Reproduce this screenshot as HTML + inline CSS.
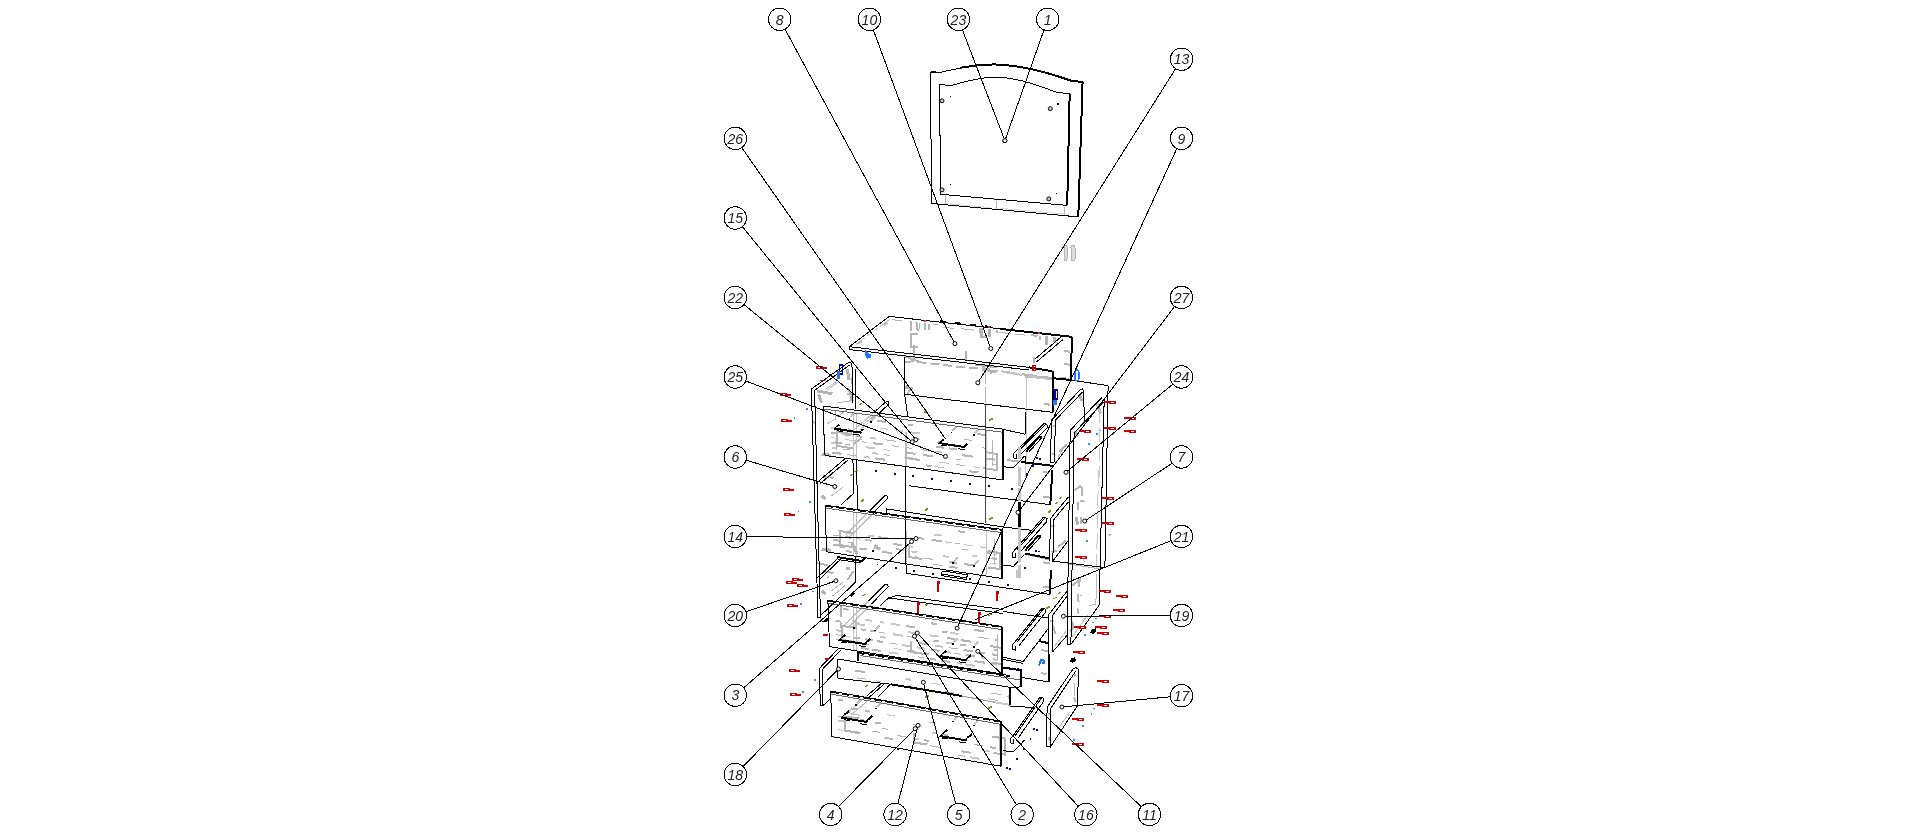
<!DOCTYPE html>
<html><head><meta charset="utf-8"><title>Exploded view</title>
<style>html,body{margin:0;padding:0;background:#fff;overflow:hidden}svg{display:block}</style></head>
<body>
<svg width="1916" height="834" viewBox="0 0 1916 834" shape-rendering="crispEdges" fill="none">
<rect x="0" y="0" width="1916" height="834" fill="#fff"/>
<g id="hidden">
<line x1="945.9" y1="196" x2="945.9" y2="204.7" stroke="#b4b4b4" stroke-width="1"/>
<line x1="996.7" y1="201" x2="996.7" y2="209.3" stroke="#b4b4b4" stroke-width="1"/>
<line x1="1064.2" y1="206.8" x2="1064.2" y2="214.7" stroke="#b4b4b4" stroke-width="1"/>
<line x1="946" y1="203.6" x2="990" y2="207.6" stroke="#ddd" stroke-width="1"/>
<line x1="1000" y1="208.3" x2="1064" y2="214" stroke="#ddd" stroke-width="1"/>
<line x1="1084.3" y1="421.3" x2="1074" y2="435" stroke="#bbb" stroke-width="1"/>
<line x1="1066" y1="444.5" x2="1058" y2="457" stroke="#bbb" stroke-width="1"/>
<line x1="877" y1="420.9" x2="886.3" y2="422.1" stroke="#b4b4b4" stroke-width="2"/>
<line x1="907.9" y1="424.9" x2="912.6" y2="425.5" stroke="#b4b4b4" stroke-width="2"/>
<line x1="976.6" y1="433.9" x2="985.2" y2="435" stroke="#b4b4b4" stroke-width="2"/>
<line x1="880.1" y1="428.2" x2="888.3" y2="429.3" stroke="#c6c6c6" stroke-width="1"/>
<line x1="896" y1="430.3" x2="903.1" y2="431.3" stroke="#c6c6c6" stroke-width="2"/>
<line x1="910.7" y1="432.3" x2="919.8" y2="433.5" stroke="#c6c6c6" stroke-width="2"/>
<line x1="963.6" y1="439.2" x2="972.2" y2="440.4" stroke="#b4b4b4" stroke-width="1"/>
<line x1="831" y1="427.7" x2="838.3" y2="428.7" stroke="#c6c6c6" stroke-width="2"/>
<line x1="913" y1="438.6" x2="919.7" y2="439.5" stroke="#c6c6c6" stroke-width="2"/>
<line x1="937.5" y1="441.8" x2="943.4" y2="442.6" stroke="#b4b4b4" stroke-width="2"/>
<line x1="981.9" y1="447.7" x2="986.9" y2="448.4" stroke="#b4b4b4" stroke-width="1"/>
<line x1="831.1" y1="432.6" x2="836" y2="433.3" stroke="#b4b4b4" stroke-width="2"/>
<line x1="842.8" y1="434.2" x2="851.4" y2="435.4" stroke="#b4b4b4" stroke-width="2"/>
<line x1="857.2" y1="436.1" x2="862.4" y2="436.8" stroke="#b4b4b4" stroke-width="2"/>
<line x1="870.1" y1="437.8" x2="876.2" y2="438.7" stroke="#c6c6c6" stroke-width="2"/>
<line x1="885" y1="439.8" x2="895.6" y2="441.2" stroke="#b4b4b4" stroke-width="1"/>
<line x1="936.1" y1="446.6" x2="943.8" y2="447.7" stroke="#b4b4b4" stroke-width="2"/>
<line x1="949" y1="448.4" x2="957.1" y2="449.4" stroke="#b4b4b4" stroke-width="2"/>
<line x1="831.3" y1="437.6" x2="837.3" y2="438.4" stroke="#c6c6c6" stroke-width="1"/>
<line x1="845.2" y1="439.5" x2="855.7" y2="440.9" stroke="#c6c6c6" stroke-width="1"/>
<line x1="862.3" y1="441.8" x2="867" y2="442.4" stroke="#b4b4b4" stroke-width="1"/>
<line x1="873.3" y1="443.2" x2="883.4" y2="444.6" stroke="#b4b4b4" stroke-width="2"/>
<line x1="891.9" y1="445.7" x2="898.9" y2="446.7" stroke="#b4b4b4" stroke-width="1"/>
<line x1="905.4" y1="447.5" x2="912.4" y2="448.5" stroke="#b4b4b4" stroke-width="1"/>
<line x1="920.5" y1="449.6" x2="930" y2="450.9" stroke="#b4b4b4" stroke-width="1"/>
<line x1="935.4" y1="451.6" x2="941.6" y2="452.4" stroke="#c6c6c6" stroke-width="2"/>
<line x1="962.1" y1="455.2" x2="972.8" y2="456.6" stroke="#b4b4b4" stroke-width="2"/>
<line x1="985.6" y1="458.3" x2="994.8" y2="459.6" stroke="#b4b4b4" stroke-width="2"/>
<line x1="831.4" y1="442.5" x2="836.6" y2="443.2" stroke="#c6c6c6" stroke-width="2"/>
<line x1="844.8" y1="444.4" x2="850.2" y2="445.1" stroke="#b4b4b4" stroke-width="1"/>
<line x1="865.7" y1="447.2" x2="875.3" y2="448.5" stroke="#c6c6c6" stroke-width="2"/>
<line x1="882.9" y1="449.5" x2="889.8" y2="450.4" stroke="#c6c6c6" stroke-width="1"/>
<line x1="905.3" y1="452.5" x2="915.6" y2="453.9" stroke="#b4b4b4" stroke-width="2"/>
<line x1="923.2" y1="454.9" x2="932.9" y2="456.3" stroke="#b4b4b4" stroke-width="2"/>
<line x1="955.6" y1="459.3" x2="960.8" y2="460" stroke="#b4b4b4" stroke-width="1"/>
<line x1="993.4" y1="464.4" x2="997.9" y2="465" stroke="#b4b4b4" stroke-width="1"/>
<line x1="831.6" y1="447.5" x2="836.3" y2="448.1" stroke="#c6c6c6" stroke-width="2"/>
<line x1="842.7" y1="449" x2="850" y2="450" stroke="#b4b4b4" stroke-width="1"/>
<line x1="872.3" y1="453" x2="878.1" y2="453.8" stroke="#c6c6c6" stroke-width="2"/>
<line x1="883.8" y1="454.6" x2="890.5" y2="455.5" stroke="#b4b4b4" stroke-width="1"/>
<line x1="904.4" y1="457.4" x2="913.6" y2="458.6" stroke="#c6c6c6" stroke-width="2"/>
<line x1="939.1" y1="462.1" x2="949.4" y2="463.5" stroke="#c6c6c6" stroke-width="1"/>
<line x1="955.9" y1="464.4" x2="965.4" y2="465.7" stroke="#b4b4b4" stroke-width="1"/>
<line x1="973.2" y1="466.8" x2="980.2" y2="467.7" stroke="#c6c6c6" stroke-width="1"/>
<line x1="983.3" y1="468.1" x2="991.8" y2="469.3" stroke="#b4b4b4" stroke-width="2"/>
<line x1="831.7" y1="452.4" x2="841.6" y2="453.8" stroke="#b4b4b4" stroke-width="2"/>
<line x1="847.4" y1="454.6" x2="856.1" y2="455.8" stroke="#b4b4b4" stroke-width="1"/>
<line x1="863.9" y1="456.8" x2="870.3" y2="457.7" stroke="#c6c6c6" stroke-width="2"/>
<line x1="874.9" y1="458.3" x2="884.9" y2="459.7" stroke="#b4b4b4" stroke-width="2"/>
<line x1="925.8" y1="465.3" x2="931.5" y2="466.1" stroke="#b4b4b4" stroke-width="2"/>
<line x1="934.5" y1="466.5" x2="944.4" y2="467.9" stroke="#c6c6c6" stroke-width="1"/>
<line x1="968.7" y1="471.2" x2="978.4" y2="472.5" stroke="#b4b4b4" stroke-width="2"/>
<line x1="958.2" y1="531.2" x2="964.6" y2="532.1" stroke="#b4b4b4" stroke-width="2"/>
<line x1="934.2" y1="534.6" x2="941.6" y2="535.6" stroke="#c6c6c6" stroke-width="2"/>
<line x1="914.8" y1="537.5" x2="923.9" y2="538.8" stroke="#b4b4b4" stroke-width="2"/>
<line x1="931.6" y1="539.9" x2="941.8" y2="541.4" stroke="#b4b4b4" stroke-width="2"/>
<line x1="944.8" y1="541.8" x2="951.5" y2="542.8" stroke="#b4b4b4" stroke-width="1"/>
<line x1="954.8" y1="543.3" x2="959.6" y2="544" stroke="#b4b4b4" stroke-width="1"/>
<line x1="963.9" y1="544.6" x2="973.3" y2="545.9" stroke="#c6c6c6" stroke-width="1"/>
<line x1="980.2" y1="546.9" x2="987" y2="547.9" stroke="#b4b4b4" stroke-width="1"/>
<line x1="843.9" y1="532" x2="852.9" y2="533.3" stroke="#b4b4b4" stroke-width="2"/>
<line x1="868.2" y1="535.6" x2="874.3" y2="536.4" stroke="#c6c6c6" stroke-width="2"/>
<line x1="877.8" y1="537" x2="888.2" y2="538.5" stroke="#b4b4b4" stroke-width="2"/>
<line x1="961.7" y1="549.1" x2="967.6" y2="550" stroke="#b4b4b4" stroke-width="1"/>
<line x1="985.9" y1="552.6" x2="990.5" y2="553.3" stroke="#b4b4b4" stroke-width="2"/>
<line x1="993.6" y1="553.7" x2="996.9" y2="554.2" stroke="#c6c6c6" stroke-width="2"/>
<line x1="833" y1="535.1" x2="841.7" y2="536.4" stroke="#b4b4b4" stroke-width="1"/>
<line x1="844.5" y1="536.8" x2="851.5" y2="537.8" stroke="#b4b4b4" stroke-width="2"/>
<line x1="855.6" y1="538.4" x2="860.6" y2="539.2" stroke="#b4b4b4" stroke-width="1"/>
<line x1="864.6" y1="539.7" x2="872.2" y2="540.9" stroke="#c6c6c6" stroke-width="2"/>
<line x1="893.1" y1="543.9" x2="902" y2="545.2" stroke="#b4b4b4" stroke-width="2"/>
<line x1="908.2" y1="546.1" x2="913" y2="546.8" stroke="#c6c6c6" stroke-width="2"/>
<line x1="972.6" y1="555.6" x2="977.1" y2="556.2" stroke="#c6c6c6" stroke-width="2"/>
<line x1="991.5" y1="558.3" x2="996.9" y2="559.1" stroke="#b4b4b4" stroke-width="2"/>
<line x1="833.1" y1="539.8" x2="840.5" y2="540.9" stroke="#b4b4b4" stroke-width="2"/>
<line x1="847.6" y1="541.9" x2="852.9" y2="542.7" stroke="#b4b4b4" stroke-width="1"/>
<line x1="896.4" y1="549.1" x2="903.9" y2="550.3" stroke="#b4b4b4" stroke-width="2"/>
<line x1="911.5" y1="551.4" x2="917.5" y2="552.3" stroke="#c6c6c6" stroke-width="2"/>
<line x1="943.2" y1="556.1" x2="949.4" y2="557" stroke="#c6c6c6" stroke-width="2"/>
<line x1="990.4" y1="563" x2="996.9" y2="564" stroke="#c6c6c6" stroke-width="1"/>
<line x1="833.2" y1="544.5" x2="841.6" y2="545.7" stroke="#b4b4b4" stroke-width="2"/>
<line x1="859.5" y1="548.4" x2="867.2" y2="549.5" stroke="#b4b4b4" stroke-width="2"/>
<line x1="882.2" y1="551.8" x2="892.1" y2="553.3" stroke="#b4b4b4" stroke-width="2"/>
<line x1="914" y1="556.5" x2="919.3" y2="557.3" stroke="#c6c6c6" stroke-width="1"/>
<line x1="924.3" y1="558.1" x2="933.2" y2="559.4" stroke="#b4b4b4" stroke-width="1"/>
<line x1="948.7" y1="561.7" x2="957.1" y2="562.9" stroke="#b4b4b4" stroke-width="2"/>
<line x1="964.1" y1="564" x2="974.1" y2="565.5" stroke="#b4b4b4" stroke-width="2"/>
<line x1="846.4" y1="551.1" x2="851.9" y2="551.9" stroke="#b4b4b4" stroke-width="2"/>
<line x1="932.7" y1="564.1" x2="943.1" y2="565.7" stroke="#b4b4b4" stroke-width="1"/>
<line x1="949" y1="566.6" x2="957.5" y2="567.9" stroke="#b4b4b4" stroke-width="2"/>
<line x1="931" y1="623.3" x2="937.2" y2="624.2" stroke="#b4b4b4" stroke-width="2"/>
<line x1="973.9" y1="629.8" x2="984.1" y2="631.4" stroke="#b4b4b4" stroke-width="2"/>
<line x1="864.9" y1="619.8" x2="871.7" y2="620.8" stroke="#c6c6c6" stroke-width="2"/>
<line x1="879.9" y1="622.1" x2="884.4" y2="622.7" stroke="#c6c6c6" stroke-width="2"/>
<line x1="891.2" y1="623.8" x2="899.8" y2="625.1" stroke="#c6c6c6" stroke-width="2"/>
<line x1="905.9" y1="626" x2="914.6" y2="627.4" stroke="#b4b4b4" stroke-width="2"/>
<line x1="942.3" y1="631.6" x2="947.5" y2="632.4" stroke="#b4b4b4" stroke-width="2"/>
<line x1="950.4" y1="632.8" x2="958.5" y2="634.1" stroke="#c6c6c6" stroke-width="2"/>
<line x1="978.5" y1="637.1" x2="988.9" y2="638.7" stroke="#b4b4b4" stroke-width="1"/>
<line x1="995.2" y1="639.7" x2="997" y2="640" stroke="#b4b4b4" stroke-width="2"/>
<line x1="835.5" y1="620.8" x2="840.8" y2="621.6" stroke="#b4b4b4" stroke-width="2"/>
<line x1="855.7" y1="623.9" x2="865.3" y2="625.4" stroke="#c6c6c6" stroke-width="2"/>
<line x1="908.1" y1="632" x2="915.7" y2="633.2" stroke="#c6c6c6" stroke-width="2"/>
<line x1="930.3" y1="635.4" x2="938.5" y2="636.6" stroke="#c6c6c6" stroke-width="2"/>
<line x1="946.7" y1="637.9" x2="954.7" y2="639.1" stroke="#b4b4b4" stroke-width="2"/>
<line x1="960.9" y1="640.1" x2="971" y2="641.7" stroke="#b4b4b4" stroke-width="2"/>
<line x1="860.9" y1="629.3" x2="866" y2="630.1" stroke="#b4b4b4" stroke-width="2"/>
<line x1="870.1" y1="630.8" x2="875.5" y2="631.6" stroke="#b4b4b4" stroke-width="2"/>
<line x1="878.8" y1="632.1" x2="885" y2="633.1" stroke="#b4b4b4" stroke-width="1"/>
<line x1="892.6" y1="634.2" x2="902.7" y2="635.8" stroke="#c6c6c6" stroke-width="2"/>
<line x1="906.7" y1="636.4" x2="914.4" y2="637.6" stroke="#b4b4b4" stroke-width="1"/>
<line x1="933.5" y1="640.6" x2="938.9" y2="641.4" stroke="#b4b4b4" stroke-width="2"/>
<line x1="946.4" y1="642.6" x2="952.8" y2="643.6" stroke="#c6c6c6" stroke-width="2"/>
<line x1="960.3" y1="644.7" x2="966.2" y2="645.6" stroke="#b4b4b4" stroke-width="2"/>
<line x1="994.1" y1="649.9" x2="997" y2="650.4" stroke="#b4b4b4" stroke-width="2"/>
<line x1="835.8" y1="630.1" x2="842.9" y2="631.2" stroke="#c6c6c6" stroke-width="2"/>
<line x1="879.7" y1="636.9" x2="885.5" y2="637.8" stroke="#c6c6c6" stroke-width="2"/>
<line x1="909.6" y1="641.6" x2="914" y2="642.2" stroke="#c6c6c6" stroke-width="1"/>
<line x1="918.4" y1="642.9" x2="926.8" y2="644.2" stroke="#b4b4b4" stroke-width="2"/>
<line x1="935.1" y1="645.5" x2="943.1" y2="646.8" stroke="#c6c6c6" stroke-width="2"/>
<line x1="948.6" y1="647.6" x2="957.7" y2="649" stroke="#b4b4b4" stroke-width="1"/>
<line x1="963.5" y1="649.9" x2="972.8" y2="651.4" stroke="#b4b4b4" stroke-width="2"/>
<line x1="980.4" y1="652.6" x2="984.8" y2="653.2" stroke="#b4b4b4" stroke-width="2"/>
<line x1="992" y1="654.4" x2="997" y2="655.1" stroke="#b4b4b4" stroke-width="2"/>
<line x1="836" y1="634.7" x2="842.3" y2="635.7" stroke="#b4b4b4" stroke-width="1"/>
<line x1="845.1" y1="636.2" x2="849.8" y2="636.9" stroke="#c6c6c6" stroke-width="1"/>
<line x1="852.9" y1="637.4" x2="860.3" y2="638.5" stroke="#b4b4b4" stroke-width="2"/>
<line x1="865" y1="639.3" x2="873.2" y2="640.5" stroke="#b4b4b4" stroke-width="2"/>
<line x1="877" y1="641.1" x2="883.3" y2="642.1" stroke="#b4b4b4" stroke-width="2"/>
<line x1="890.3" y1="643.2" x2="896.9" y2="644.2" stroke="#b4b4b4" stroke-width="1"/>
<line x1="901.7" y1="645" x2="909.7" y2="646.2" stroke="#c6c6c6" stroke-width="2"/>
<line x1="917.2" y1="647.4" x2="925.3" y2="648.7" stroke="#c6c6c6" stroke-width="2"/>
<line x1="930.9" y1="649.6" x2="939.5" y2="650.9" stroke="#b4b4b4" stroke-width="2"/>
<line x1="944.9" y1="651.7" x2="950.7" y2="652.6" stroke="#c6c6c6" stroke-width="2"/>
<line x1="953.7" y1="653.1" x2="960.6" y2="654.2" stroke="#b4b4b4" stroke-width="1"/>
<line x1="965.5" y1="655" x2="975.3" y2="656.5" stroke="#b4b4b4" stroke-width="2"/>
<line x1="980.7" y1="657.3" x2="985.7" y2="658.1" stroke="#c6c6c6" stroke-width="2"/>
<line x1="993.1" y1="659.3" x2="997" y2="659.9" stroke="#c6c6c6" stroke-width="2"/>
<line x1="836.1" y1="639.4" x2="844" y2="640.6" stroke="#b4b4b4" stroke-width="1"/>
<line x1="851.3" y1="641.7" x2="855.9" y2="642.5" stroke="#c6c6c6" stroke-width="1"/>
<line x1="863.8" y1="643.7" x2="869.2" y2="644.6" stroke="#b4b4b4" stroke-width="1"/>
<line x1="893.7" y1="648.4" x2="901.5" y2="649.6" stroke="#c6c6c6" stroke-width="1"/>
<line x1="907.2" y1="650.5" x2="915.9" y2="651.9" stroke="#b4b4b4" stroke-width="2"/>
<line x1="924.1" y1="653.2" x2="928.8" y2="653.9" stroke="#b4b4b4" stroke-width="2"/>
<line x1="936.4" y1="655.1" x2="942.2" y2="656" stroke="#b4b4b4" stroke-width="1"/>
<line x1="948.5" y1="657" x2="957.4" y2="658.4" stroke="#c6c6c6" stroke-width="2"/>
<line x1="962.4" y1="659.2" x2="968.9" y2="660.2" stroke="#b4b4b4" stroke-width="1"/>
<line x1="974.5" y1="661.1" x2="984.7" y2="662.7" stroke="#b4b4b4" stroke-width="2"/>
<line x1="989.8" y1="663.5" x2="997" y2="664.6" stroke="#c6c6c6" stroke-width="2"/>
<line x1="861" y1="647.9" x2="868.5" y2="649.1" stroke="#b4b4b4" stroke-width="2"/>
<line x1="871.9" y1="649.6" x2="880.8" y2="651" stroke="#b4b4b4" stroke-width="2"/>
<line x1="889" y1="652.3" x2="898.5" y2="653.8" stroke="#c6c6c6" stroke-width="2"/>
<line x1="918.3" y1="656.9" x2="924.2" y2="657.9" stroke="#b4b4b4" stroke-width="1"/>
<line x1="929.7" y1="658.7" x2="936.4" y2="659.8" stroke="#b4b4b4" stroke-width="2"/>
<line x1="940.9" y1="660.5" x2="949.9" y2="661.9" stroke="#b4b4b4" stroke-width="2"/>
<line x1="956.7" y1="663" x2="962.3" y2="663.9" stroke="#c6c6c6" stroke-width="2"/>
<line x1="965.1" y1="664.3" x2="975.4" y2="666" stroke="#c6c6c6" stroke-width="2"/>
<line x1="837.7" y1="699.6" x2="843.4" y2="700.6" stroke="#b4b4b4" stroke-width="2"/>
<line x1="851.2" y1="708.3" x2="858" y2="709.5" stroke="#b4b4b4" stroke-width="2"/>
<line x1="865.4" y1="710.8" x2="869.9" y2="711.6" stroke="#b4b4b4" stroke-width="2"/>
<line x1="887.1" y1="714.6" x2="895.3" y2="716.1" stroke="#c6c6c6" stroke-width="1"/>
<line x1="928.6" y1="721.9" x2="933.5" y2="722.8" stroke="#b4b4b4" stroke-width="1"/>
<line x1="850.9" y1="713.7" x2="860" y2="715.3" stroke="#b4b4b4" stroke-width="1"/>
<line x1="912.7" y1="724.6" x2="922.4" y2="726.3" stroke="#b4b4b4" stroke-width="1"/>
<line x1="838" y1="716" x2="844.8" y2="717.1" stroke="#b4b4b4" stroke-width="1"/>
<line x1="860.4" y1="719.9" x2="867.2" y2="721.1" stroke="#b4b4b4" stroke-width="2"/>
<line x1="875" y1="722.5" x2="881.1" y2="723.5" stroke="#b4b4b4" stroke-width="2"/>
<line x1="931.8" y1="732.4" x2="937.1" y2="733.4" stroke="#c6c6c6" stroke-width="2"/>
<line x1="941.5" y1="734.1" x2="948.2" y2="735.3" stroke="#b4b4b4" stroke-width="2"/>
<line x1="838.1" y1="720.5" x2="846.4" y2="722" stroke="#c6c6c6" stroke-width="2"/>
<line x1="882.4" y1="728.3" x2="887.9" y2="729.3" stroke="#b4b4b4" stroke-width="1"/>
<line x1="973.6" y1="744.3" x2="982.5" y2="745.9" stroke="#b4b4b4" stroke-width="1"/>
<line x1="990.1" y1="747.2" x2="995.9" y2="748.2" stroke="#b4b4b4" stroke-width="2"/>
<line x1="871.6" y1="730.9" x2="880.5" y2="732.5" stroke="#b4b4b4" stroke-width="1"/>
<line x1="897.5" y1="735.5" x2="907.6" y2="737.2" stroke="#b4b4b4" stroke-width="1"/>
<line x1="914" y1="738.3" x2="918.9" y2="739.2" stroke="#c6c6c6" stroke-width="2"/>
<line x1="924.3" y1="740.2" x2="929" y2="741" stroke="#b4b4b4" stroke-width="2"/>
<line x1="981.6" y1="750.2" x2="989.6" y2="751.6" stroke="#c6c6c6" stroke-width="2"/>
<line x1="838.2" y1="729.6" x2="846.4" y2="731" stroke="#c6c6c6" stroke-width="1"/>
<line x1="849.8" y1="731.6" x2="858.8" y2="733.2" stroke="#b4b4b4" stroke-width="2"/>
<line x1="884.5" y1="737.7" x2="892.6" y2="739.1" stroke="#b4b4b4" stroke-width="2"/>
<line x1="930.4" y1="745.7" x2="940.5" y2="747.5" stroke="#b4b4b4" stroke-width="1"/>
<line x1="961.4" y1="751.2" x2="970.6" y2="752.8" stroke="#b4b4b4" stroke-width="2"/>
<line x1="957.6" y1="755" x2="965.4" y2="756.4" stroke="#b4b4b4" stroke-width="1"/>
<line x1="969.7" y1="757.1" x2="979.6" y2="758.9" stroke="#c6c6c6" stroke-width="2"/>
<line x1="855.2" y1="670.5" x2="864.7" y2="672.1" stroke="#b4b4b4" stroke-width="2"/>
<line x1="905.6" y1="678.9" x2="911.3" y2="679.8" stroke="#c6c6c6" stroke-width="2"/>
<line x1="930.6" y1="683" x2="940.5" y2="684.6" stroke="#c6c6c6" stroke-width="1"/>
<line x1="965.5" y1="688.8" x2="972.2" y2="689.9" stroke="#b4b4b4" stroke-width="1"/>
<line x1="991.3" y1="693.1" x2="1000.7" y2="694.6" stroke="#b4b4b4" stroke-width="1"/>
<line x1="857" y1="677.8" x2="865.9" y2="679.2" stroke="#b4b4b4" stroke-width="1"/>
<line x1="876" y1="680.8" x2="880.8" y2="681.6" stroke="#b4b4b4" stroke-width="1"/>
<line x1="908.1" y1="686" x2="912.6" y2="686.7" stroke="#c6c6c6" stroke-width="2"/>
<line x1="944.6" y1="691.9" x2="954.3" y2="693.5" stroke="#b4b4b4" stroke-width="2"/>
<line x1="988.3" y1="698.9" x2="997.9" y2="700.5" stroke="#b4b4b4" stroke-width="1"/>
<line x1="962" y1="696" x2="1010.3" y2="705.2" stroke="#999" stroke-width="1"/>
<line x1="850.4" y1="417.2" x2="853.9" y2="413.2" stroke="#c0c0c0" stroke-width="2"/>
<line x1="872" y1="420.4" x2="875.5" y2="416.4" stroke="#c0c0c0" stroke-width="2"/>
<line x1="952.5" y1="430.8" x2="956" y2="426.8" stroke="#c0c0c0" stroke-width="2"/>
<line x1="974.8" y1="433.6" x2="978.3" y2="429.6" stroke="#c0c0c0" stroke-width="2"/>
<line x1="854.9" y1="626.2" x2="858.4" y2="622.2" stroke="#c0c0c0" stroke-width="2"/>
<line x1="876" y1="629.1" x2="879.5" y2="625.1" stroke="#c0c0c0" stroke-width="2"/>
<line x1="954.1" y1="642.2" x2="957.6" y2="638.2" stroke="#c0c0c0" stroke-width="2"/>
<line x1="974.8" y1="645.4" x2="978.3" y2="641.4" stroke="#c0c0c0" stroke-width="2"/>
<line x1="856.8" y1="703.5" x2="860.3" y2="699.5" stroke="#c0c0c0" stroke-width="2"/>
<line x1="877.1" y1="707.1" x2="880.6" y2="703.1" stroke="#c0c0c0" stroke-width="2"/>
<line x1="954.1" y1="719.9" x2="957.6" y2="715.9" stroke="#c0c0c0" stroke-width="2"/>
<line x1="974.8" y1="723.9" x2="978.3" y2="719.9" stroke="#c0c0c0" stroke-width="2"/>
<line x1="874" y1="549.2" x2="877.5" y2="545.2" stroke="#c0c0c0" stroke-width="2"/>
<line x1="954.1" y1="561.5" x2="957.6" y2="557.5" stroke="#c0c0c0" stroke-width="2"/>
<line x1="974.8" y1="564.3" x2="978.3" y2="560.3" stroke="#c0c0c0" stroke-width="2"/>
<path d="M890.4,318.8 L855.6,344.6" stroke="#c8c8c8" stroke-width="1" fill="none" stroke-dasharray="5 3"/>
<path d="M891.6,319.6 L902.4,320.8" stroke="#b4b4b4" stroke-width="1" fill="none"/>
<path d="M943.1,327.2 L953.9,328.4" stroke="#b4b4b4" stroke-width="1" fill="none"/>
<path d="M961.1,328.6 L974.3,330.2" stroke="#b4b4b4" stroke-width="1" fill="none"/>
<path d="M911.3,320.6 L911.3,330.8" stroke="#b4b4b4" stroke-width="2" fill="none"/>
<path d="M916.4,321.8 L917,329 L918.5,330.8" stroke="#b4b4b4" stroke-width="2" fill="none"/>
<path d="M919.1,323 L919.1,329" stroke="#b4b4b4" stroke-width="1" fill="none"/>
<path d="M925.1,323 L925.1,329.6" stroke="#b4b4b4" stroke-width="2" fill="none"/>
<path d="M928.7,323.6 L928.7,330.2" stroke="#b4b4b4" stroke-width="2" fill="none"/>
<path d="M933.5,324.2 L938.3,324.8" stroke="#b4b4b4" stroke-width="1" fill="none"/>
<path d="M917.9,333.8 L911.3,333.8 L911.3,347 L917.9,347" stroke="#b4b4b4" stroke-width="2" fill="none"/>
<path d="M914.3,344.6 L914.3,361.4" stroke="#b4b4b4" stroke-width="2" fill="none"/>
<path d="M965.9,350.6 L965.9,361.4" stroke="#b4b4b4" stroke-width="2" fill="none"/>
<path d="M904.7,362.6 L911.9,361.4 L935.9,364 L959.9,367 L990,368.8" stroke="#b4b4b4" stroke-width="2" fill="none" stroke-dasharray="9 4"/>
<path d="M905.3,387.7 L911.9,387.7 L907.1,393.7" stroke="#b4b4b4" stroke-width="2" fill="none"/>
<path d="M985.7,372.1 L985.7,405" stroke="#b4b4b4" stroke-width="1" fill="none" stroke-dasharray="12 3"/>
<path d="M858,343.4 L862.2,341" stroke="#b4b4b4" stroke-width="2" fill="none"/>
<path d="M883.8,324.8 L887.4,322.4" stroke="#b4b4b4" stroke-width="2" fill="none"/>
<path d="M979.7,328.4 L981.5,337.4 L985.7,337.4" stroke="#b4b4b4" stroke-width="2" fill="none"/>
<path d="M846.6,369.7 L849,379.3" stroke="#b4b4b4" stroke-width="2" fill="none"/>
<path d="M847.2,393.7 L852,393.7 L850.2,400.9" stroke="#b4b4b4" stroke-width="2" fill="none"/>
<path d="M851.4,376.9 L852,384.1" stroke="#b4b4b4" stroke-width="1" fill="none"/>
<path d="M981.8,328.4 L981.8,337.4" stroke="#b4b4b4" stroke-width="3" fill="none"/>
<path d="M989.6,329 L989.6,336.8" stroke="#b4b4b4" stroke-width="3" fill="none"/>
<path d="M996.6,330.2 L997.2,333.2" stroke="#b4b4b4" stroke-width="2" fill="none"/>
<path d="M999,332.2 L1011,333.8" stroke="#b4b4b4" stroke-width="1" fill="none"/>
<path d="M1014.6,334 L1025.4,335.2" stroke="#b4b4b4" stroke-width="1" fill="none"/>
<path d="M1031.4,335 L1037.4,336.2" stroke="#b4b4b4" stroke-width="2" fill="none"/>
<path d="M1039.7,335.6 L1039.7,339.8" stroke="#b4b4b4" stroke-width="2" fill="none"/>
<path d="M1046.6,336.4 L1046.9,344.6" stroke="#b4b4b4" stroke-width="3" fill="none"/>
<path d="M1054.7,337.4 L1055.1,343.4" stroke="#b4b4b4" stroke-width="3" fill="none"/>
<path d="M1063.7,350.8 L1070.3,351.8" stroke="#b4b4b4" stroke-width="2" fill="none"/>
<path d="M1063.7,363.8 L1070.3,365" stroke="#b4b4b4" stroke-width="2" fill="none"/>
<path d="M1058.9,377.8 L1068.5,378.7" stroke="#b4b4b4" stroke-width="2" fill="none"/>
<path d="M1033.8,357.2 L1033.8,362.6" stroke="#b4b4b4" stroke-width="2" fill="none"/>
<path d="M975,364.6 L996.6,367.4" stroke="#b4b4b4" stroke-width="2" fill="none"/>
<path d="M982.2,369.7 L996.6,371.7" stroke="#b4b4b4" stroke-width="2" fill="none"/>
<path d="M1001.4,371.2 L1014.6,373.3" stroke="#b4b4b4" stroke-width="2" fill="none"/>
<path d="M1021.8,374.2 L1035,375.7" stroke="#b4b4b4" stroke-width="2" fill="none"/>
<path d="M1025.4,376 L1051.7,378.4" stroke="#b4b4b4" stroke-width="3" fill="none"/>
<path d="M985.2,369.7 L985.2,405" stroke="#b4b4b4" stroke-width="1" fill="none" stroke-dasharray="14 4"/>
<path d="M1026.6,376.9 L1026.6,405" stroke="#b4b4b4" stroke-width="1" fill="none"/>
<path d="M1080.5,396.1 L1080.5,400.9" stroke="#b4b4b4" stroke-width="2" fill="none"/>
<path d="M847.3,369.2 L849.1,380" stroke="#b4b4b4" stroke-width="3" fill="none"/>
<path d="M848.5,389.6 L852.7,398" stroke="#b4b4b4" stroke-width="2" fill="none"/>
<path d="M817.4,391 L832.4,393.8" stroke="#b4b4b4" stroke-width="3" fill="none"/>
<path d="M818.6,394.4 L821.6,402.8" stroke="#b4b4b4" stroke-width="3" fill="none"/>
<path d="M826.4,388.6 L837.1,380.8" stroke="#bbb" stroke-width="1" fill="none"/>
<path d="M827.6,389.8 L838.3,382" stroke="#bbb" stroke-width="1" fill="none"/>
<path d="M837.1,402.8 L853.9,400.4" stroke="#b4b4b4" stroke-width="1" fill="none"/>
<path d="M835.7,410 L836.7,450" stroke="#b4b4b4" stroke-width="1" fill="none" stroke-dasharray="10 5"/>
<path d="M837.1,417.1 L846.7,410" stroke="#b4b4b4" stroke-width="1" fill="none"/>
<path d="M861.1,423.4 L871.9,415" stroke="#bbb" stroke-width="1" fill="none"/>
<path d="M862.9,424.6 L873.7,416.2" stroke="#bbb" stroke-width="1" fill="none"/>
<path d="M835.3,441.7 L841.9,443.5" stroke="#b4b4b4" stroke-width="2" fill="none"/>
<path d="M852.7,444.7 L861.1,438.7" stroke="#b4b4b4" stroke-width="2" fill="none"/>
<path d="M847.9,429.1 L856.3,432.7" stroke="#b4b4b4" stroke-width="2" fill="none"/>
<path d="M904.3,356.2 L919.9,362" stroke="#b4b4b4" stroke-width="2" fill="none"/>
<path d="M905.3,386 L912.7,389.6" stroke="#b4b4b4" stroke-width="2" fill="none"/>
<path d="M812,421.9 L816.2,423.1" stroke="#b4b4b4" stroke-width="2" fill="none"/>
<path d="M826.4,424.3 L834.7,419.5" stroke="#bbb" stroke-width="1" fill="none"/>
<line x1="853.5" y1="413.9" x2="853.5" y2="458.6" stroke="#c0c0c0" stroke-width="1"/>
<line x1="856.5" y1="414.3" x2="856.5" y2="459" stroke="#c0c0c0" stroke-width="1"/>
<line x1="853.5" y1="512.8" x2="853.5" y2="555.1" stroke="#c0c0c0" stroke-width="1"/>
<line x1="856.5" y1="513.2" x2="856.5" y2="555.5" stroke="#c0c0c0" stroke-width="1"/>
<line x1="853.5" y1="607.9" x2="853.5" y2="649.7" stroke="#c0c0c0" stroke-width="1"/>
<line x1="856.5" y1="608.3" x2="856.5" y2="650.2" stroke="#c0c0c0" stroke-width="1"/>
<line x1="906" y1="431.7" x2="906" y2="465.7" stroke="#c0c0c0" stroke-width="2"/>
<line x1="986" y1="429.5" x2="986" y2="476.6" stroke="#c0c0c0" stroke-width="1"/>
<line x1="906" y1="530.6" x2="906" y2="563" stroke="#c0c0c0" stroke-width="2"/>
<line x1="986" y1="529.7" x2="986" y2="575.1" stroke="#c0c0c0" stroke-width="1"/>
<line x1="875.8" y1="410.7" x2="850.6" y2="432.8" stroke="#bdbdbd" stroke-width="1"/>
<line x1="878.6" y1="413.7" x2="853.4" y2="435.8" stroke="#bdbdbd" stroke-width="1"/>
<line x1="850.6" y1="432.8" x2="853.4" y2="435.8" stroke="#bdbdbd" stroke-width="1"/>
<line x1="870.2" y1="510.4" x2="846.2" y2="534.4" stroke="#bdbdbd" stroke-width="1"/>
<line x1="873" y1="513.4" x2="849" y2="537.4" stroke="#bdbdbd" stroke-width="1"/>
<line x1="846.2" y1="534.4" x2="849" y2="537.4" stroke="#bdbdbd" stroke-width="1"/>
<line x1="868.6" y1="601.1" x2="844.8" y2="624.9" stroke="#bdbdbd" stroke-width="1"/>
<line x1="871.4" y1="604.1" x2="847.6" y2="627.9" stroke="#bdbdbd" stroke-width="1"/>
<line x1="844.8" y1="624.9" x2="847.6" y2="627.9" stroke="#bdbdbd" stroke-width="1"/>
<line x1="866.7" y1="696.1" x2="848.7" y2="711.7" stroke="#bdbdbd" stroke-width="1"/>
<line x1="869.5" y1="699.1" x2="851.5" y2="714.7" stroke="#bdbdbd" stroke-width="1"/>
<line x1="848.7" y1="711.7" x2="851.5" y2="714.7" stroke="#bdbdbd" stroke-width="1"/>
<path d="M852,434 L837,432 L837.5,446 L853,448.5" stroke="#b4b4b4" stroke-width="2" fill="none"/>
<path d="M985,452 L997,454 L997,470 L986,468.5" stroke="#b4b4b4" stroke-width="2" fill="none"/>
<path d="M992,440 L992,466" stroke="#b4b4b4" stroke-width="1" fill="none"/>
<path d="M906,448 L906,458 L920,460" stroke="#b4b4b4" stroke-width="2" fill="none"/>
<path d="M854.5,533 L839.5,531 L840,545 L855.5,547.5" stroke="#b4b4b4" stroke-width="2" fill="none"/>
<path d="M987.5,551 L999.5,553 L999.5,569 L988.5,567.5" stroke="#b4b4b4" stroke-width="2" fill="none"/>
<path d="M994.5,539 L994.5,565" stroke="#b4b4b4" stroke-width="1" fill="none"/>
<path d="M908.5,547 L908.5,557 L922.5,559" stroke="#b4b4b4" stroke-width="2" fill="none"/>
<path d="M857,628 L842,626 L842.5,640 L858,642.5" stroke="#b4b4b4" stroke-width="2" fill="none"/>
<path d="M990,646 L1002,648 L1002,664 L991,662.5" stroke="#b4b4b4" stroke-width="2" fill="none"/>
<path d="M997,634 L997,660" stroke="#b4b4b4" stroke-width="1" fill="none"/>
<path d="M911,642 L911,652 L925,654" stroke="#b4b4b4" stroke-width="2" fill="none"/>
<path d="M859.5,718.5 L844.5,716.5 L845,730.5 L860.5,733" stroke="#b4b4b4" stroke-width="2" fill="none"/>
<path d="M992.5,736.5 L1004.5,738.5 L1004.5,754.5 L993.5,753" stroke="#b4b4b4" stroke-width="2" fill="none"/>
<path d="M999.5,724.5 L999.5,750.5" stroke="#b4b4b4" stroke-width="1" fill="none"/>
<path d="M913.5,732.5 L913.5,742.5 L927.5,744.5" stroke="#b4b4b4" stroke-width="2" fill="none"/>
<path d="M1079.9,395.7 L1081.8,400.8" stroke="#b4b4b4" stroke-width="3" fill="none"/>
<path d="M1097.2,404 L1099.1,408.5 L1100.4,413.6" stroke="#b4b4b4" stroke-width="3" fill="none"/>
<path d="M1074.1,431.6 L1077.9,436.8" stroke="#b4b4b4" stroke-width="3" fill="none"/>
<path d="M1043.9,404 L1050.3,404.7" stroke="#b4b4b4" stroke-width="2" fill="none"/>
<path d="M1052.9,425.8 L1054.8,426.5" stroke="#b4b4b4" stroke-width="2" fill="none"/>
<path d="M1051.6,454.1 L1055.5,454.7" stroke="#b4b4b4" stroke-width="2" fill="none"/>
<path d="M1059.3,451.5 L1067,444.5" stroke="#b4b4b4" stroke-width="2" fill="none"/>
<path d="M1026.6,376.4 L1025.9,477.1" stroke="#c8c8c8" stroke-width="1" fill="none"/>
<path d="M1099.1,408.5 L1099.1,477.1" stroke="#c8c8c8" stroke-width="1" fill="none" stroke-dasharray="14 5"/>
<path d="M1006.7,459.9 L1019.5,461.8" stroke="#b4b4b4" stroke-width="2" fill="none"/>
<path d="M1042.6,472.1 L1049.1,472.7" stroke="#b4b4b4" stroke-width="2" fill="none"/>
<path d="M990,373.2 L997.7,370.6" stroke="#b4b4b4" stroke-width="2" fill="none"/>
<path d="M1002.8,371.9 L1051.6,379.6" stroke="#c4c4c4" stroke-width="2" fill="none" stroke-dasharray="20 6"/>
<path d="M1074.7,490.5 L1079.9,486 L1081.8,487.3 L1081.8,495.7" stroke="#b4b4b4" stroke-width="2" fill="none"/>
<path d="M1077.9,502.1 L1077.9,509.8" stroke="#b4b4b4" stroke-width="2" fill="none"/>
<path d="M1079.9,501.5 L1084.4,500.8" stroke="#b4b4b4" stroke-width="2" fill="none"/>
<path d="M1076.6,516.9 L1077.3,524.6" stroke="#b4b4b4" stroke-width="3" fill="none"/>
<path d="M1080.5,516.9 L1080.5,523.9" stroke="#b4b4b4" stroke-width="2" fill="none"/>
<path d="M1098.5,470 L1096.5,567.6" stroke="#c8c8c8" stroke-width="1" fill="none" stroke-dasharray="16 5"/>
<path d="M1043.3,497 L1050.3,497.6" stroke="#b4b4b4" stroke-width="2" fill="none"/>
<path d="M1050.3,525.8 L1054.8,526.2" stroke="#b4b4b4" stroke-width="2" fill="none"/>
<path d="M1058,547 L1065.7,540.6" stroke="#b4b4b4" stroke-width="2" fill="none"/>
<path d="M1024,554.1 L1049.1,559.9" stroke="#b4b4b4" stroke-width="1" fill="none"/>
<path d="M1042.6,562.4 L1049.7,563.1" stroke="#b4b4b4" stroke-width="2" fill="none"/>
<path d="M1067,563.7 L1099.1,568.8" stroke="#b4b4b4" stroke-width="1" fill="none"/>
<path d="M1051.6,552.2 L1056.8,550.9" stroke="#b4b4b4" stroke-width="2" fill="none"/>
<path d="M1098.5,507.2 L1100.4,507.2" stroke="#b4b4b4" stroke-width="1" fill="none"/>
<path d="M1108.7,534.8 L1110.7,534.2" stroke="#999" stroke-width="2" fill="none"/>
<path d="M1072.2,585.4 L1079.9,579.6 L1078.6,586.7" stroke="#b4b4b4" stroke-width="2" fill="none"/>
<path d="M1077.9,594.4 L1078.6,602.1" stroke="#b4b4b4" stroke-width="2" fill="none"/>
<path d="M1079.9,595 L1082.4,595" stroke="#b4b4b4" stroke-width="1" fill="none"/>
<path d="M1077.3,608.5 L1078.6,613.6" stroke="#b4b4b4" stroke-width="2" fill="none"/>
<path d="M1096.5,573.9 L1095.9,604.7 L1088.8,605.3" stroke="#bbb" stroke-width="1" fill="none"/>
<path d="M1069.6,631.6 L1073.4,627.8 L1072.2,621.3" stroke="#b4b4b4" stroke-width="2" fill="none"/>
<path d="M1042.6,586.7 L1049.1,587.3" stroke="#b4b4b4" stroke-width="2" fill="none"/>
<path d="M1050.3,621.3 L1054.2,620.7" stroke="#b4b4b4" stroke-width="2" fill="none"/>
<path d="M1052.9,625.2 L1055.5,634.2" stroke="#b4b4b4" stroke-width="2" fill="none"/>
<path d="M1041.3,650.2 L1047.8,650.9" stroke="#b4b4b4" stroke-width="2" fill="none"/>
<path d="M1041.3,673.3 L1046.5,674" stroke="#b4b4b4" stroke-width="2" fill="none"/>
<path d="M1017.6,570 L1017.6,577.7" stroke="#c4c4c4" stroke-width="3" fill="none"/>
<path d="M1087.6,614.9 L1072.2,636.8" stroke="#bbb" stroke-width="1" fill="none"/>
<path d="M1065.7,631.6 L1054.2,647" stroke="#bbb" stroke-width="1" fill="none"/>
<path d="M1074.1,673.9 L1075.4,676.4" stroke="#b4b4b4" stroke-width="2" fill="none"/>
<path d="M1074.7,682.8 L1074.1,695.7" stroke="#bbb" stroke-width="1" fill="none"/>
<path d="M1074.1,697.6 L1075.4,702.1" stroke="#b4b4b4" stroke-width="2" fill="none"/>
<path d="M1047.8,713.6 L1051,714.3" stroke="#b4b4b4" stroke-width="2" fill="none"/>
<path d="M1069.6,712.4 L1056.8,730.3" stroke="#bbb" stroke-width="1" fill="none"/>
<path d="M1048.4,737.4 L1050.3,740.6" stroke="#b4b4b4" stroke-width="2" fill="none"/>
<path d="M1008,695.7 L1009.3,698.9" stroke="#b4b4b4" stroke-width="2" fill="none"/>
<path d="M993.9,702.1 L1009.3,704.7" stroke="#c8c8c8" stroke-width="2" fill="none"/>
<path d="M821.6,549.2 L831.3,550.3" stroke="#b4b4b4" stroke-width="3" fill="none"/>
<path d="M817.3,563.2 L828.1,565.4" stroke="#b4b4b4" stroke-width="2" fill="none"/>
<path d="M822.7,571.3 L833.5,572.9" stroke="#b4b4b4" stroke-width="2" fill="none"/>
<path d="M821.6,590.8 L825.4,594" stroke="#b4b4b4" stroke-width="3" fill="none"/>
<path d="M846.4,568.3 L850.2,568.6" stroke="#b4b4b4" stroke-width="3" fill="none"/>
<path d="M827.5,576.7 L829.2,577.3" stroke="#b4b4b4" stroke-width="2" fill="none"/>
<path d="M831.3,590.8 L843.2,582.1" stroke="#bbb" stroke-width="1" fill="none"/>
<path d="M832.4,596.2 L845.4,585.4" stroke="#bbb" stroke-width="1" fill="none"/>
<path d="M847.5,580 L853.5,571.3" stroke="#b4b4b4" stroke-width="2" fill="none"/>
<path d="M840.5,604.8 L841.6,629.6" stroke="#b4b4b4" stroke-width="2" fill="none" stroke-dasharray="12 6"/>
<path d="M842.7,609.1 L848.6,609.7" stroke="#b4b4b4" stroke-width="2" fill="none"/>
<path d="M852.9,619.9 L856.2,623.7" stroke="#b4b4b4" stroke-width="2" fill="none"/>
<path d="M840,541.1 L840,546.5 L845.4,547" stroke="#b4b4b4" stroke-width="2" fill="none"/>
<path d="M851.8,543.2 L857.2,554" stroke="#b4b4b4" stroke-width="3" fill="none"/>
<path d="M874.5,545.4 L880,549.7" stroke="#b4b4b4" stroke-width="3" fill="none"/>
<path d="M821.6,454.2 L831.3,455.3" stroke="#b4b4b4" stroke-width="3" fill="none"/>
<path d="M822.7,476.3 L833.5,477.9" stroke="#b4b4b4" stroke-width="2" fill="none"/>
<path d="M821.6,495.8 L825.4,499" stroke="#b4b4b4" stroke-width="3" fill="none"/>
<path d="M831.3,495.8 L843.2,487.1" stroke="#bbb" stroke-width="1" fill="none"/>
</g>
<g id="mirror">
<path d="M930.5,71.6 L936,71.6" stroke="#000" stroke-width="2" fill="none"/>
<path d="M936,72.2 L941,72.2 C949,70.4 955,69 961,68" stroke="#000" stroke-width="1" fill="none"/>
<path d="M960,67.8 C973,65.4 984,64.5 994,64.4 C1020,64.8 1048,72.5 1071.8,80.9 L1082.6,81.9" stroke="#000" stroke-width="2" fill="none"/>
<path d="M1082.6,81.9 L1078.3,216.9" stroke="#000" stroke-width="2" fill="none"/>
<path d="M1078.3,216.9 L931.5,203.5 L930.5,71.6" stroke="#000" stroke-width="1" fill="none"/>
<path d="M939.5,84.5 L944.6,84.5 L945.2,85.6 L951,85.6 C968,80.4 984,77.2 996,77 C1018,77.6 1040,86 1056.7,92.4 L1069.7,93.6" stroke="#000" stroke-width="1" fill="none"/>
<path d="M1069.7,93.6 L1067.2,205.4" stroke="#000" stroke-width="2" fill="none"/>
<path d="M1067.2,205.4 L940.6,194.3 L939.5,84.5" stroke="#000" stroke-width="1" fill="none"/>
<g shape-rendering="geometricPrecision">
<circle cx="942" cy="100.8" r="2" stroke="#000" stroke-width="1" fill="#ccc"/>
<circle cx="1050.3" cy="108.7" r="2" stroke="#000" stroke-width="1" fill="#ccc"/>
<circle cx="942" cy="189.9" r="2" stroke="#000" stroke-width="1" fill="#ccc"/>
<circle cx="1048.8" cy="198.9" r="2" stroke="#000" stroke-width="1" fill="#ccc"/>
</g>
<rect x="949.5" y="95.5" width="1.6" height="1.6" fill="#000"/>
<rect x="1057.1" y="103.2" width="1.6" height="1.6" fill="#000"/>
<rect x="949.7" y="183.7" width="1.6" height="1.6" fill="#000"/>
<rect x="1055.6" y="192.8" width="1.6" height="1.6" fill="#000"/>
<rect x="1064" y="245.5" width="3" height="15" rx="1.5" fill="#ddd" stroke="#b4b4b4" stroke-width="1"/>
<rect x="1071" y="245.5" width="4" height="15" rx="2" fill="#ddd" stroke="#b4b4b4" stroke-width="1"/>
</g>
<g id="top">
<line x1="889.2" y1="316.4" x2="1000" y2="328.8" stroke="#000" stroke-width="1"/>
<line x1="940" y1="321.3" x2="1000" y2="328" stroke="#000" stroke-width="2" stroke-dasharray="6 9"/>
<line x1="1000" y1="328.8" x2="1071.9" y2="336.8" stroke="#000" stroke-width="2"/>
<line x1="1071.9" y1="336.8" x2="1070.9" y2="380" stroke="#000" stroke-width="2"/>
<line x1="1070.9" y1="380" x2="1052.9" y2="378.2" stroke="#000" stroke-width="2"/>
<line x1="1053.3" y1="371.5" x2="1052.9" y2="412.4" stroke="#000" stroke-width="2"/>
<line x1="1029" y1="367.4" x2="1052.4" y2="371.2" stroke="#000" stroke-width="2"/>
<line x1="849.4" y1="346.7" x2="1029" y2="367.4" stroke="#000" stroke-width="1"/>
<line x1="849.4" y1="349.6" x2="1029" y2="370" stroke="#000" stroke-width="1"/>
<line x1="889.2" y1="316.4" x2="849.4" y2="346.7" stroke="#000" stroke-width="1"/>
<line x1="849.4" y1="346.7" x2="849.4" y2="349.6" stroke="#000" stroke-width="1"/>
<line x1="1061.3" y1="336.8" x2="1035" y2="359" stroke="#000" stroke-width="1"/>
<line x1="1063" y1="339.5" x2="1036.4" y2="362" stroke="#000" stroke-width="1"/>
<line x1="904.1" y1="356.8" x2="904.7" y2="394.3" stroke="#000" stroke-width="1"/>
<line x1="904.7" y1="394.3" x2="1052.9" y2="412.4" stroke="#000" stroke-width="1"/>
</g>
<g id="back">
<line x1="904.7" y1="394.3" x2="907.7" y2="416.3" stroke="#000" stroke-width="1"/>
<line x1="905" y1="466.6" x2="906.1" y2="573.3" stroke="#000" stroke-width="1"/>
<line x1="906.1" y1="573.3" x2="1049.7" y2="594.4" stroke="#000" stroke-width="1"/>
<line x1="1049.7" y1="594.4" x2="1051" y2="570" stroke="#000" stroke-width="2"/>
<line x1="908.5" y1="485.7" x2="1050.3" y2="504.7" stroke="#000" stroke-width="1"/>
<line x1="1052.3" y1="470" x2="1050.3" y2="504.7" stroke="#000" stroke-width="2"/>
<line x1="985.8" y1="404" x2="985.8" y2="523" stroke="#444" stroke-width="1"/>
<line x1="1025.9" y1="412.4" x2="1025.3" y2="434.2" stroke="#000" stroke-width="1"/>
<line x1="1003.5" y1="429.5" x2="1025.3" y2="434.2" stroke="#000" stroke-width="1"/>
<line x1="1003" y1="527" x2="1031" y2="530.3" stroke="#000" stroke-width="1"/>
<line x1="1003" y1="611.5" x2="1049" y2="618.1" stroke="#000" stroke-width="1"/>
</g>
<g id="leftpanel">
<path d="M811.4,389 L847,363.5 L849.3,362 L851.5,363.2 L852.2,368 L852.6,402.8" stroke="#000" stroke-width="1" fill="none"/>
<path d="M814.6,390.4 L850,364.8" stroke="#000" stroke-width="1" fill="none"/>
<path d="M855.2,369 L855.4,408.8" stroke="#000" stroke-width="1" fill="none"/>
<line x1="811.4" y1="389" x2="818" y2="617.5" stroke="#000" stroke-width="1"/>
<line x1="814.6" y1="390.4" x2="820.5" y2="617.5" stroke="#000" stroke-width="1"/>
<line x1="818" y1="617.5" x2="820.5" y2="617.5" stroke="#000" stroke-width="1"/>
<path d="M852.9,459.4 L854,493 L841,504.8" stroke="#000" stroke-width="1" fill="none"/>
<line x1="856.2" y1="460.5" x2="857.8" y2="509" stroke="#000" stroke-width="1"/>
<path d="M855.6,556 L855.6,582.1 L820.5,615.6" stroke="#000" stroke-width="1" fill="none"/>
<line x1="816.2" y1="483.2" x2="844.8" y2="458.9" stroke="#000" stroke-width="1"/>
<line x1="819.4" y1="484.3" x2="848" y2="460" stroke="#000" stroke-width="1"/>
<line x1="817.3" y1="577.8" x2="840" y2="556.2" stroke="#000" stroke-width="1"/>
<line x1="820" y1="578.9" x2="842.1" y2="557.8" stroke="#000" stroke-width="1"/>
</g>
<g id="rightside">
<line x1="1070.9" y1="380" x2="1108.1" y2="385.7" stroke="#000" stroke-width="1"/>
<line x1="1108.1" y1="385.7" x2="1104.9" y2="567.6" stroke="#000" stroke-width="1"/>
<line x1="1104.2" y1="399.5" x2="1099.1" y2="605.3" stroke="#000" stroke-width="1"/>
<line x1="1099.1" y1="605.3" x2="1070.9" y2="644.5" stroke="#000" stroke-width="1"/>
<line x1="1104.9" y1="567.6" x2="1051.6" y2="561" stroke="#000" stroke-width="1"/>
<line x1="1070.2" y1="430.3" x2="1067" y2="644.5" stroke="#000" stroke-width="1"/>
<line x1="1074.1" y1="431.6" x2="1070.9" y2="644.5" stroke="#000" stroke-width="1"/>
<line x1="1067" y1="644.5" x2="1070.9" y2="644.5" stroke="#000" stroke-width="1"/>
<line x1="1070.2" y1="430.3" x2="1101.7" y2="397.6" stroke="#000" stroke-width="1"/>
<line x1="1074.1" y1="433" x2="1103.5" y2="402" stroke="#000" stroke-width="1"/>
<path d="M1054.2,462.4 L1050.3,462.4 L1051.6,420 L1080,390 L1082.4,389 L1083.7,391 L1084.3,421.3" stroke="#000" stroke-width="1" fill="none"/>
<path d="M1054.2,462.4 L1055.5,420 L1082.6,392" stroke="#000" stroke-width="1" fill="none"/>
<path d="M1049.7,561.1 L1050.3,518.8 L1068.3,497" stroke="#000" stroke-width="1" fill="none"/>
<path d="M1052.9,561.1 L1053.5,520 L1068.3,502" stroke="#000" stroke-width="1" fill="none"/>
<line x1="1052.9" y1="561" x2="1068" y2="541" stroke="#000" stroke-width="1"/>
<path d="M1048.4,657.3 L1049,614.3 L1067,591.2" stroke="#000" stroke-width="1" fill="none"/>
<path d="M1052.3,652.2 L1052.9,615 L1067,596.3" stroke="#000" stroke-width="1" fill="none"/>
<line x1="1052.3" y1="652.2" x2="1067" y2="635.5" stroke="#000" stroke-width="1"/>
<path d="M1046.5,746.4 L1047.1,707.2 L1072.6,669.5 L1075.5,667.5 L1078.2,669 L1078.6,672 L1077.3,706 L1050.3,747 L1046.5,746.4" stroke="#000" stroke-width="1" fill="none"/>
<path d="M1050.3,747 L1051,707.9 L1075.5,671.5" stroke="#000" stroke-width="1" fill="none"/>
</g>
<g id="fronts">
<line x1="823.1" y1="406" x2="1003.3" y2="429.2" stroke="#000" stroke-width="1"/>
<line x1="823.6" y1="409" x2="1002.3" y2="432.2" stroke="#666" stroke-width="1"/>
<line x1="823.1" y1="406" x2="824.7" y2="455.4" stroke="#000" stroke-width="1"/>
<line x1="824.7" y1="455.4" x2="1003.3" y2="480" stroke="#000" stroke-width="1"/>
<line x1="1003.3" y1="429.2" x2="1003.3" y2="480" stroke="#000" stroke-width="2"/>
<line x1="825.5" y1="505.2" x2="1002.2" y2="529.5" stroke="#000" stroke-width="1"/>
<line x1="825.5" y1="506.2" x2="1002.2" y2="530.5" stroke="#000" stroke-width="1" stroke-dasharray="8 3"/>
<line x1="826" y1="508.2" x2="1001.2" y2="532.5" stroke="#666" stroke-width="1"/>
<line x1="825.5" y1="505.2" x2="826.3" y2="551.8" stroke="#000" stroke-width="1"/>
<line x1="826.3" y1="551.8" x2="1002.2" y2="578.5" stroke="#000" stroke-width="1"/>
<line x1="1002.2" y1="529.5" x2="1002.2" y2="578.5" stroke="#000" stroke-width="2"/>
<line x1="827.9" y1="600.3" x2="1002.2" y2="626.5" stroke="#000" stroke-width="1"/>
<line x1="827.9" y1="601.3" x2="1002.2" y2="627.5" stroke="#000" stroke-width="1" stroke-dasharray="8 3"/>
<line x1="828.4" y1="603.3" x2="1001.2" y2="629.5" stroke="#666" stroke-width="1"/>
<line x1="827.9" y1="600.3" x2="829.5" y2="646.6" stroke="#000" stroke-width="1"/>
<line x1="829.5" y1="646.6" x2="1002.2" y2="674" stroke="#000" stroke-width="1"/>
<line x1="1002.2" y1="626.5" x2="1002.2" y2="674" stroke="#000" stroke-width="2"/>
<line x1="830.8" y1="691.1" x2="1001" y2="721.2" stroke="#000" stroke-width="1"/>
<line x1="830.8" y1="692.1" x2="1001" y2="722.2" stroke="#000" stroke-width="1" stroke-dasharray="8 3"/>
<line x1="831.3" y1="694.1" x2="1000" y2="724.2" stroke="#666" stroke-width="1"/>
<line x1="830.8" y1="691.1" x2="831.6" y2="736.6" stroke="#000" stroke-width="1"/>
<line x1="831.6" y1="736.6" x2="1001" y2="766.2" stroke="#000" stroke-width="1"/>
<line x1="1001" y1="721.2" x2="1001" y2="766.2" stroke="#000" stroke-width="2"/>
<line x1="834" y1="428.5" x2="861.5" y2="432.8" stroke="#000" stroke-width="2"/>
<line x1="837" y1="430.7" x2="843" y2="431.6" stroke="#000" stroke-width="1"/>
<line x1="853.5" y1="434.2" x2="860.5" y2="435.2" stroke="#000" stroke-width="1"/>
<line x1="835" y1="428" x2="839" y2="424.8" stroke="#000" stroke-width="1"/>
<line x1="836.8" y1="426.6" x2="839" y2="424.8" stroke="#000" stroke-width="2"/>
<line x1="859.5" y1="432.3" x2="863.5" y2="429.1" stroke="#000" stroke-width="1"/>
<line x1="861.3" y1="430.9" x2="863.5" y2="429.1" stroke="#000" stroke-width="2"/>
<line x1="938.5" y1="443" x2="965.5" y2="447.2" stroke="#000" stroke-width="2"/>
<line x1="941.5" y1="445.2" x2="947.5" y2="446.1" stroke="#000" stroke-width="1"/>
<line x1="957.5" y1="448.6" x2="964.5" y2="449.6" stroke="#000" stroke-width="1"/>
<line x1="939.5" y1="442.5" x2="943.5" y2="439.3" stroke="#000" stroke-width="1"/>
<line x1="941.3" y1="441.1" x2="943.5" y2="439.3" stroke="#000" stroke-width="2"/>
<line x1="963.5" y1="446.7" x2="967.5" y2="443.5" stroke="#000" stroke-width="1"/>
<line x1="965.3" y1="445.3" x2="967.5" y2="443.5" stroke="#000" stroke-width="2"/>
<line x1="838.5" y1="640" x2="866.5" y2="644.2" stroke="#000" stroke-width="2"/>
<line x1="841.5" y1="642.2" x2="847.5" y2="643.1" stroke="#000" stroke-width="1"/>
<line x1="858.5" y1="645.6" x2="865.5" y2="646.6" stroke="#000" stroke-width="1"/>
<line x1="839.5" y1="639.5" x2="845.5" y2="634.5" stroke="#000" stroke-width="1"/>
<line x1="842.2" y1="637.2" x2="845.5" y2="634.5" stroke="#000" stroke-width="2"/>
<line x1="864.5" y1="643.7" x2="870.5" y2="638.7" stroke="#000" stroke-width="1"/>
<line x1="867.2" y1="641.5" x2="870.5" y2="638.7" stroke="#000" stroke-width="2"/>
<line x1="939.5" y1="656" x2="967" y2="660.5" stroke="#000" stroke-width="2"/>
<line x1="942.5" y1="658.2" x2="948.5" y2="659.1" stroke="#000" stroke-width="1"/>
<line x1="959" y1="661.9" x2="966" y2="662.9" stroke="#000" stroke-width="1"/>
<line x1="940.5" y1="655.5" x2="946.5" y2="650.5" stroke="#000" stroke-width="1"/>
<line x1="943.2" y1="653.2" x2="946.5" y2="650.5" stroke="#000" stroke-width="2"/>
<line x1="965" y1="660" x2="971" y2="655" stroke="#000" stroke-width="1"/>
<line x1="967.7" y1="657.8" x2="971" y2="655" stroke="#000" stroke-width="2"/>
<line x1="841" y1="717.5" x2="867.5" y2="722.2" stroke="#000" stroke-width="2"/>
<line x1="844" y1="719.7" x2="850" y2="720.6" stroke="#000" stroke-width="1"/>
<line x1="859.5" y1="723.6" x2="866.5" y2="724.6" stroke="#000" stroke-width="1"/>
<line x1="842" y1="717" x2="849" y2="711" stroke="#000" stroke-width="1"/>
<line x1="845.1" y1="714.3" x2="849" y2="711" stroke="#000" stroke-width="2"/>
<line x1="865.5" y1="721.7" x2="872.5" y2="715.7" stroke="#000" stroke-width="1"/>
<line x1="868.6" y1="719" x2="872.5" y2="715.7" stroke="#000" stroke-width="2"/>
<line x1="939.5" y1="736" x2="967" y2="740.5" stroke="#000" stroke-width="2"/>
<line x1="942.5" y1="738.2" x2="948.5" y2="739.1" stroke="#000" stroke-width="1"/>
<line x1="959" y1="741.9" x2="966" y2="742.9" stroke="#000" stroke-width="1"/>
<line x1="940.5" y1="735.5" x2="947.5" y2="729.5" stroke="#000" stroke-width="1"/>
<line x1="943.6" y1="732.8" x2="947.5" y2="729.5" stroke="#000" stroke-width="2"/>
<line x1="965" y1="740" x2="972" y2="734" stroke="#000" stroke-width="1"/>
<line x1="968.1" y1="737.3" x2="972" y2="734" stroke="#000" stroke-width="2"/>
<path d="M836.7,557 L862,561 L865.4,558" stroke="#000" stroke-width="2" fill="none"/>
<line x1="838" y1="559.5" x2="861" y2="563" stroke="#000" stroke-width="1"/>
<path d="M941,572.5 L944,571 L967.5,575 L966,579.5 L941,575.5 L941,572.5" stroke="#000" stroke-width="1" fill="none"/>
<line x1="942" y1="574" x2="966" y2="578" stroke="#000" stroke-width="1"/>
</g>
<g id="plinth">
<path d="M820.4,705.7 L819.2,668.6 L838.3,648.8" stroke="#000" stroke-width="1" fill="none"/>
<path d="M822.8,705.7 L822.2,669.6 L840.5,650.5" stroke="#000" stroke-width="1" fill="none"/>
<line x1="820.4" y1="705.7" x2="822.8" y2="705.7" stroke="#000" stroke-width="1"/>
<line x1="822.8" y1="705.7" x2="831" y2="698.5" stroke="#000" stroke-width="1"/>
<line x1="837.6" y1="658.9" x2="1010.3" y2="687.4" stroke="#000" stroke-width="1"/>
<line x1="837.6" y1="658.9" x2="837.6" y2="678.3" stroke="#000" stroke-width="1"/>
<line x1="837.6" y1="678.3" x2="890.4" y2="684.2" stroke="#000" stroke-width="1"/>
<line x1="890.4" y1="684.2" x2="962" y2="696" stroke="#000" stroke-width="2"/>
<line x1="1010.3" y1="687.4" x2="1010.3" y2="705.2" stroke="#000" stroke-width="2"/>
<line x1="1010.3" y1="706.2" x2="1034" y2="707.5" stroke="#000" stroke-width="1"/>
<line x1="858" y1="652.4" x2="858" y2="661" stroke="#000" stroke-width="2"/>
<line x1="858" y1="652.4" x2="1010" y2="675.6" stroke="#000" stroke-width="1"/>
<line x1="858" y1="653.4" x2="1010" y2="676.6" stroke="#000" stroke-width="1" stroke-dasharray="6 4"/>
<line x1="860" y1="655.5" x2="1020.6" y2="680" stroke="#666" stroke-width="1"/>
<path d="M1002.8,667.5 L1020.6,670.2 L1021.1,686.9" stroke="#000" stroke-width="2" fill="none"/>
<line x1="1010.3" y1="687.4" x2="1021.1" y2="686.9" stroke="#000" stroke-width="1"/>
<line x1="866.7" y1="696.1" x2="881.8" y2="683.1" stroke="#000" stroke-width="1"/>
<line x1="869.5" y1="697" x2="884" y2="684.2" stroke="#000" stroke-width="1"/>
<line x1="878.5" y1="696.6" x2="890.4" y2="684.2" stroke="#000" stroke-width="1"/>
</g>
<g id="rails">
<path d="M1015.2,452 L1043.7,423.9 L1045.6,423.7 L1047.7,425.3 L1046.8,428.4 L1020.4,454.4" stroke="#000" stroke-width="1" fill="none"/>
<line x1="1018.5" y1="451" x2="1045.6" y2="424.3" stroke="#000" stroke-width="1"/>
<path d="M1015.2,452 L1013.7,453.5 L1013.7,458 L1016.8,458.2 L1016.8,453.8" stroke="#000" stroke-width="1" fill="none"/>
<path d="M1013.8,551 L1043,517.6 L1044.9,517.3 L1047.1,518.8 L1046.4,521.9 L1019.2,553.1" stroke="#000" stroke-width="1" fill="none"/>
<line x1="1017" y1="549.8" x2="1044.9" y2="517.9" stroke="#000" stroke-width="1"/>
<path d="M1013.8,551 L1012.3,552.5 L1012.3,557 L1015.4,557.2 L1015.4,552.8" stroke="#000" stroke-width="1" fill="none"/>
<path d="M1013.5,643.8 L1041.6,608.7 L1043.4,608.2 L1045.7,609.6 L1045.2,612.8 L1019,645.6" stroke="#000" stroke-width="1" fill="none"/>
<line x1="1016.6" y1="642.5" x2="1043.4" y2="608.9" stroke="#000" stroke-width="1"/>
<path d="M1013.5,643.8 L1012,645.3 L1012,649.8 L1015.1,650 L1015.1,645.6" stroke="#000" stroke-width="1" fill="none"/>
<path d="M1012.3,737 L1039.6,697.7 L1041.5,697.2 L1043.8,698.4 L1043.5,701.6 L1017.9,738.4" stroke="#000" stroke-width="1" fill="none"/>
<line x1="1015.3" y1="735.5" x2="1041.5" y2="697.8" stroke="#000" stroke-width="1"/>
<path d="M1012.3,737 L1010.8,738.5 L1010.8,743 L1013.9,743.2 L1013.9,738.8" stroke="#000" stroke-width="1" fill="none"/>
<path d="M1026.1,451.6 L1038.7,437.3 L1042,436.9" stroke="#000" stroke-width="2" fill="none"/>
<line x1="1028.8" y1="452" x2="1041.5" y2="438" stroke="#000" stroke-width="1"/>
<path d="M1025.1,550.6 L1037.7,536.3 L1041,535.9" stroke="#000" stroke-width="2" fill="none"/>
<line x1="1027.8" y1="551" x2="1040.5" y2="537" stroke="#000" stroke-width="1"/>
<path d="M875.8,410.7 L886.3,401.5 L888.1,401.8 L888.9,404.1 L878.6,413.7" stroke="#000" stroke-width="1" fill="none"/>
<path d="M870.2,510.4 L885.2,495.4 L887,495.7 L887.8,498 L873,513.4" stroke="#000" stroke-width="1" fill="none"/>
<path d="M868.6,601.1 L885.6,584.1 L887.4,584.4 L888.2,586.7 L871.4,604.1" stroke="#000" stroke-width="1" fill="none"/>
</g>
<g id="boxes">
<path d="M1003.4,466.7 L1013.5,467.8 L1024.4,456.2" stroke="#000" stroke-width="1" fill="none"/>
<path d="M1003.4,565.2 L1013.5,566.3 L1024.4,554.7" stroke="#000" stroke-width="1" fill="none"/>
<path d="M1003.4,750.7 L1013.5,751.8 L1024.4,740.2" stroke="#000" stroke-width="1" fill="none"/>
<line x1="1021" y1="462.1" x2="1053.8" y2="465.9" stroke="#000" stroke-width="2"/>
<line x1="1024.7" y1="553.4" x2="1050.3" y2="558.6" stroke="#000" stroke-width="2"/>
<line x1="1025.6" y1="456.2" x2="1025.6" y2="462" stroke="#000" stroke-width="1"/>
<line x1="1049.2" y1="654.5" x2="1048.6" y2="682" stroke="#000" stroke-width="2"/>
<line x1="1048.6" y1="682" x2="1020.6" y2="677.2" stroke="#000" stroke-width="1"/>
<line x1="1039" y1="641" x2="1048.6" y2="643.2" stroke="#000" stroke-width="2"/>
<path d="M1002.8,657.2 L1023.3,661.5 L1048.6,628.1" stroke="#000" stroke-width="1" fill="none"/>
<line x1="1003" y1="659.5" x2="1023.3" y2="663.5" stroke="#000" stroke-width="1"/>
<rect x="1017.5" y="447" width="3" height="12" fill="#c4c4c4"/>
<rect x="1017.5" y="467" width="3" height="19" fill="#c4c4c4"/>
<rect x="1017.5" y="488" width="3" height="13" fill="#c4c4c4"/>
<rect x="1017.5" y="527" width="3" height="35" fill="#c4c4c4"/>
<rect x="1017.5" y="565" width="3" height="13" fill="#c4c4c4"/>
<rect x="1017.5" y="502" width="3" height="25" fill="#000"/>
</g>
<g id="hw">
<path d="M1104,401 h6 v2 h-6 z M1109,401 h7 v3 h-7 z" fill="#cc0000"/><rect x="1111" y="402" width="3" height="1" fill="#fff"/>
<path d="M1124,417 h6 v2 h-6 z M1129,417 h7 v3 h-7 z" fill="#cc0000"/><rect x="1131" y="418" width="3" height="1" fill="#fff"/>
<path d="M1104,427 h6 v2 h-6 z M1109,427 h7 v3 h-7 z" fill="#cc0000"/><rect x="1111" y="428" width="3" height="1" fill="#fff"/>
<path d="M1124,430 h6 v2 h-6 z M1129,430 h7 v3 h-7 z" fill="#cc0000"/><rect x="1131" y="431" width="3" height="1" fill="#fff"/>
<path d="M1079,430 h6 v2 h-6 z M1084,430 h7 v3 h-7 z" fill="#cc0000"/><rect x="1086" y="431" width="3" height="1" fill="#fff"/>
<path d="M1077,458 h6 v2 h-6 z M1082,458 h7 v3 h-7 z" fill="#cc0000"/><rect x="1084" y="459" width="3" height="1" fill="#fff"/>
<path d="M1102,497 h6 v2 h-6 z M1107,497 h7 v3 h-7 z" fill="#cc0000"/><rect x="1109" y="498" width="3" height="1" fill="#fff"/>
<path d="M1102,522 h6 v2 h-6 z M1107,522 h7 v3 h-7 z" fill="#cc0000"/><rect x="1109" y="523" width="3" height="1" fill="#fff"/>
<path d="M1075,529 h6 v2 h-6 z M1080,529 h7 v3 h-7 z" fill="#cc0000"/><rect x="1082" y="530" width="3" height="1" fill="#fff"/>
<path d="M1075,556 h6 v2 h-6 z M1080,556 h7 v3 h-7 z" fill="#cc0000"/><rect x="1082" y="557" width="3" height="1" fill="#fff"/>
<path d="M1099,590 h6 v2 h-6 z M1104,590 h7 v3 h-7 z" fill="#cc0000"/><rect x="1106" y="591" width="3" height="1" fill="#fff"/>
<path d="M1116,595 h6 v2 h-6 z M1121,595 h7 v3 h-7 z" fill="#cc0000"/><rect x="1123" y="596" width="3" height="1" fill="#fff"/>
<path d="M1113,609 h6 v2 h-6 z M1118,609 h7 v3 h-7 z" fill="#cc0000"/><rect x="1120" y="610" width="3" height="1" fill="#fff"/>
<path d="M1099,615 h6 v2 h-6 z M1104,615 h7 v3 h-7 z" fill="#cc0000"/><rect x="1106" y="616" width="3" height="1" fill="#fff"/>
<path d="M1095,626 h6 v2 h-6 z M1100,626 h7 v3 h-7 z" fill="#cc0000"/><rect x="1102" y="627" width="3" height="1" fill="#fff"/>
<path d="M1074,626 h6 v2 h-6 z M1079,626 h7 v3 h-7 z" fill="#cc0000"/><rect x="1081" y="627" width="3" height="1" fill="#fff"/>
<path d="M1097,632 h6 v2 h-6 z M1102,632 h7 v3 h-7 z" fill="#cc0000"/><rect x="1104" y="633" width="3" height="1" fill="#fff"/>
<path d="M1073,651 h6 v2 h-6 z M1078,651 h7 v3 h-7 z" fill="#cc0000"/><rect x="1080" y="652" width="3" height="1" fill="#fff"/>
<path d="M1097,680 h6 v2 h-6 z M1102,680 h7 v3 h-7 z" fill="#cc0000"/><rect x="1104" y="681" width="3" height="1" fill="#fff"/>
<path d="M1097,704 h6 v2 h-6 z M1102,704 h7 v3 h-7 z" fill="#cc0000"/><rect x="1104" y="705" width="3" height="1" fill="#fff"/>
<path d="M1072,718 h6 v2 h-6 z M1077,718 h7 v3 h-7 z" fill="#cc0000"/><rect x="1079" y="719" width="3" height="1" fill="#fff"/>
<path d="M1072,743 h6 v2 h-6 z M1077,743 h7 v3 h-7 z" fill="#cc0000"/><rect x="1079" y="744" width="3" height="1" fill="#fff"/>
<path d="M816,366 h7 v3 h-7 z M822,367 h5 v2 h-5 z" fill="#cc0000"/><rect x="818" y="367" width="3" height="1" fill="#fff"/>
<path d="M780,393 h7 v3 h-7 z M786,394 h5 v2 h-5 z" fill="#cc0000"/><rect x="782" y="394" width="3" height="1" fill="#fff"/>
<path d="M781,419 h7 v3 h-7 z M787,420 h5 v2 h-5 z" fill="#cc0000"/><rect x="783" y="420" width="3" height="1" fill="#fff"/>
<path d="M783,488 h7 v3 h-7 z M789,489 h5 v2 h-5 z" fill="#cc0000"/><rect x="785" y="489" width="3" height="1" fill="#fff"/>
<path d="M784,513 h7 v3 h-7 z M790,514 h5 v2 h-5 z" fill="#cc0000"/><rect x="786" y="514" width="3" height="1" fill="#fff"/>
<path d="M787,604 h7 v3 h-7 z M793,605 h5 v2 h-5 z" fill="#cc0000"/><rect x="789" y="605" width="3" height="1" fill="#fff"/>
<path d="M789,669 h7 v3 h-7 z M795,670 h5 v2 h-5 z" fill="#cc0000"/><rect x="791" y="670" width="3" height="1" fill="#fff"/>
<path d="M790,693 h7 v3 h-7 z M796,694 h5 v2 h-5 z" fill="#cc0000"/><rect x="792" y="694" width="3" height="1" fill="#fff"/>
<path d="M786,581 h7 v3 h-7 z M792,582 h5 v2 h-5 z" fill="#cc0000"/><rect x="788" y="582" width="3" height="1" fill="#fff"/>
<path d="M792,578 h7 v3 h-7 z M798,579 h5 v2 h-5 z" fill="#cc0000"/><rect x="794" y="579" width="3" height="1" fill="#fff"/>
<path d="M797,584 h7 v3 h-7 z M803,585 h5 v2 h-5 z" fill="#cc0000"/><rect x="799" y="585" width="3" height="1" fill="#fff"/>
<rect x="820.4" y="379.6" width="4.4" height="1.8" fill="#cc0000"/>
<rect x="823.4" y="634.2" width="4.4" height="1.8" fill="#cc0000"/>
<rect x="824.6" y="658.2" width="4.4" height="1.8" fill="#cc0000"/>
<rect x="936.6" y="581.2" width="2" height="11.1" fill="#cc0000"/>
<rect x="937.6" y="581.2" width="2" height="3" fill="#cc0000"/>
<rect x="917.3" y="601.9" width="2" height="11.1" fill="#cc0000"/>
<rect x="918.3" y="601.9" width="2" height="3" fill="#cc0000"/>
<rect x="978.4" y="612.3" width="2" height="10.3" fill="#cc0000"/>
<rect x="979.4" y="612.3" width="2" height="3" fill="#cc0000"/>
<rect x="996.4" y="590.7" width="2" height="10.4" fill="#cc0000"/>
<rect x="997.4" y="590.7" width="2" height="3" fill="#cc0000"/>
<rect x="1033" y="365.5" width="2.6" height="4.8" fill="none" stroke="#cc0000" stroke-width="1.2"/>
<rect x="924.1" y="319.6" width="2" height="2" fill="#e0306a"/>
<rect x="987.8" y="326" width="2" height="2" fill="#e0306a"/>
<rect x="1038.1" y="332.2" width="2" height="2" fill="#e0306a"/>
<path d="M865,350.5 l3,3 l2.5,1 l0.5,3 l-3.5,0.5 l-2.5,-3 z" fill="#1e78ff" stroke="#1e78ff" stroke-width="1"/>
<rect x="839.5" y="365" width="3.2" height="9" fill="none" stroke="#0000cc" stroke-width="1.4"/>
<rect x="836.5" y="371" width="3.4" height="8.4" fill="#1e78ff"/>
<rect x="1075" y="370" width="3.8" height="10.6" rx="1.5" fill="none" stroke="#1e78ff" stroke-width="1.4"/>
<rect x="1055" y="390" width="2.6" height="9" fill="none" stroke="#0000cc" stroke-width="1.2"/>
<rect x="1052.6" y="400" width="4" height="4.6" fill="#1e78ff"/>
<path d="M1039,665.5 l2.2,-5.5 l2.6,0.6 l0.4,2.4 l-2.4,0.6" stroke="#1e78ff" stroke-width="2" fill="none"/>
<rect x="875.2" y="470.1" width="1.8" height="1.8" fill="#000090"/>
<rect x="893.7" y="472.8" width="1.8" height="1.8" fill="#000090"/>
<rect x="912" y="474.9" width="1.8" height="1.8" fill="#000090"/>
<rect x="931" y="477.9" width="1.8" height="1.8" fill="#000090"/>
<rect x="949.8" y="480" width="1.8" height="1.8" fill="#000090"/>
<rect x="969" y="482.9" width="1.8" height="1.8" fill="#000090"/>
<rect x="988.1" y="485.1" width="1.8" height="1.8" fill="#000090"/>
<rect x="1010.9" y="488.1" width="1.8" height="1.8" fill="#000090"/>
<rect x="876.5" y="563.6" width="1.8" height="1.8" fill="#000090"/>
<rect x="894.8" y="566.8" width="1.8" height="1.8" fill="#000090"/>
<rect x="912.8" y="570" width="1.8" height="1.8" fill="#000090"/>
<rect x="932.3" y="573.2" width="1.8" height="1.8" fill="#000090"/>
<rect x="969" y="578" width="1.8" height="1.8" fill="#000090"/>
<rect x="988.1" y="580.7" width="1.8" height="1.8" fill="#000090"/>
<rect x="1007.1" y="584.1" width="1.8" height="1.8" fill="#000090"/>
<rect x="1035.7" y="457" width="1.8" height="1.8" fill="#000090"/>
<rect x="1039.4" y="457.8" width="1.8" height="1.8" fill="#000090"/>
<rect x="1032.3" y="465.4" width="1.8" height="1.8" fill="#000090"/>
<rect x="1025.6" y="473.4" width="1.8" height="1.8" fill="#000090"/>
<rect x="1037.9" y="550.6" width="1.8" height="1.8" fill="#000090"/>
<rect x="1035.1" y="550.1" width="1.8" height="1.8" fill="#000090"/>
<rect x="1024.4" y="567.3" width="1.8" height="1.8" fill="#000090"/>
<rect x="1016.7" y="667.9" width="1.8" height="1.8" fill="#000090"/>
<rect x="1032.7" y="728.1" width="1.8" height="1.8" fill="#000090"/>
<rect x="1036" y="729.1" width="1.8" height="1.8" fill="#000090"/>
<rect x="1029.5" y="738.4" width="1.8" height="1.8" fill="#000090"/>
<rect x="1023.1" y="748.1" width="1.8" height="1.8" fill="#000090"/>
<rect x="1016.1" y="757.9" width="1.8" height="1.8" fill="#000090"/>
<rect x="1005.8" y="767.3" width="1.8" height="1.8" fill="#000090"/>
<rect x="1009" y="767.9" width="1.8" height="1.8" fill="#000090"/>
<rect x="896.7" y="747.7" width="1.8" height="1.8" fill="#000090"/>
<rect x="858.8" y="403.6" width="2" height="1.6" fill="#8a8a10"/><rect x="860.3" y="402.6" width="2" height="1.6" fill="#8a8a10"/>
<rect x="923.7" y="411" width="2" height="1.6" fill="#8a8a10"/><rect x="925.2" y="410" width="2" height="1.6" fill="#8a8a10"/>
<rect x="989.1" y="419.2" width="2" height="1.6" fill="#8a8a10"/><rect x="990.6" y="418.2" width="2" height="1.6" fill="#8a8a10"/>
<rect x="854.3" y="470.5" width="2" height="1.6" fill="#8a8a10"/><rect x="855.8" y="469.5" width="2" height="1.6" fill="#8a8a10"/>
<rect x="849.5" y="474.5" width="2" height="1.6" fill="#8a8a10"/><rect x="851" y="473.5" width="2" height="1.6" fill="#8a8a10"/>
<rect x="860.7" y="500.4" width="2" height="1.6" fill="#8a8a10"/><rect x="862.2" y="499.4" width="2" height="1.6" fill="#8a8a10"/>
<rect x="924.5" y="509.3" width="2" height="1.6" fill="#8a8a10"/><rect x="926" y="508.3" width="2" height="1.6" fill="#8a8a10"/>
<rect x="989.1" y="518.4" width="2" height="1.6" fill="#8a8a10"/><rect x="990.6" y="517.4" width="2" height="1.6" fill="#8a8a10"/>
<rect x="1058.5" y="497.6" width="2" height="1.6" fill="#8a8a10"/><rect x="1060" y="496.6" width="2" height="1.6" fill="#8a8a10"/>
<rect x="1054.6" y="502.7" width="2" height="1.6" fill="#8a8a10"/><rect x="1056.1" y="501.7" width="2" height="1.6" fill="#8a8a10"/>
<rect x="1047.5" y="511" width="2" height="1.6" fill="#8a8a10"/><rect x="1049" y="510" width="2" height="1.6" fill="#8a8a10"/>
<rect x="862.3" y="594.7" width="2" height="1.6" fill="#8a8a10"/><rect x="863.8" y="593.7" width="2" height="1.6" fill="#8a8a10"/>
<rect x="924.5" y="604.3" width="2" height="1.6" fill="#8a8a10"/><rect x="926" y="603.3" width="2" height="1.6" fill="#8a8a10"/>
<rect x="988.3" y="614.7" width="2" height="1.6" fill="#8a8a10"/><rect x="989.8" y="613.7" width="2" height="1.6" fill="#8a8a10"/>
<rect x="1057.8" y="592.5" width="2" height="1.6" fill="#8a8a10"/><rect x="1059.3" y="591.5" width="2" height="1.6" fill="#8a8a10"/>
<rect x="1053.3" y="597.6" width="2" height="1.6" fill="#8a8a10"/><rect x="1054.8" y="596.6" width="2" height="1.6" fill="#8a8a10"/>
<rect x="1046.3" y="607" width="2" height="1.6" fill="#8a8a10"/><rect x="1047.8" y="606" width="2" height="1.6" fill="#8a8a10"/>
<rect x="864.7" y="685.6" width="2" height="1.6" fill="#8a8a10"/><rect x="866.2" y="684.6" width="2" height="1.6" fill="#8a8a10"/>
<rect x="925.3" y="696" width="2" height="1.6" fill="#8a8a10"/><rect x="926.8" y="695" width="2" height="1.6" fill="#8a8a10"/>
<rect x="988.3" y="707" width="2" height="1.6" fill="#8a8a10"/><rect x="989.8" y="706" width="2" height="1.6" fill="#8a8a10"/>
<rect x="806.4" y="408" width="1.6" height="1.6" fill="#2a8cff"/>
<rect x="793.8" y="417.2" width="1.6" height="1.6" fill="#2a8cff"/>
<rect x="809.1" y="501.2" width="1.6" height="1.6" fill="#2a8cff"/>
<rect x="797.5" y="510.7" width="1.6" height="1.6" fill="#2a8cff"/>
<rect x="811.9" y="590.8" width="1.6" height="1.6" fill="#2a8cff"/>
<rect x="799.9" y="603" width="1.6" height="1.6" fill="#2a8cff"/>
<rect x="814.2" y="678.9" width="1.6" height="1.6" fill="#2a8cff"/>
<rect x="802.4" y="691.2" width="1.6" height="1.6" fill="#2a8cff"/>
<rect x="1088" y="443" width="1.6" height="1.6" fill="#2a8cff"/>
<rect x="1096.4" y="433.4" width="1.6" height="1.6" fill="#2a8cff"/>
<rect x="1099.8" y="429.5" width="1.6" height="1.6" fill="#2a8cff"/>
<rect x="1086.1" y="540.1" width="1.6" height="1.6" fill="#2a8cff"/>
<rect x="1084.2" y="634.3" width="1.6" height="1.6" fill="#2a8cff"/>
<rect x="1091.9" y="621.8" width="1.6" height="1.6" fill="#2a8cff"/>
<rect x="1095.2" y="617.7" width="1.6" height="1.6" fill="#2a8cff"/>
<rect x="1093.2" y="707.7" width="1.6" height="1.6" fill="#2a8cff"/>
<rect x="1090.7" y="713.2" width="1.6" height="1.6" fill="#2a8cff"/>
<rect x="1082.2" y="725.2" width="1.6" height="1.6" fill="#2a8cff"/>
<rect x="1073.2" y="739.2" width="1.6" height="1.6" fill="#2a8cff"/>
<path d="M1090.7,632.5 l1.5,-3 l3,-0.5 l0.5,2.5 l-2.5,1.8 z" fill="#000" stroke="#000" stroke-width="1"/>
<path d="M1070.2,661.4 l1.5,-3 l3,-0.5 l0.5,2.5 l-2.5,1.8 z" fill="#000" stroke="#000" stroke-width="1"/>
<path d="M849.5999999999999,595.2 l3.4,-2.8 l1.4,0.8 l-3,2.8 z" fill="#000" stroke="#000" stroke-width="1"/>
<path d="M823.3,621.4000000000001 l3.4,-2.8 l1.4,0.8 l-3,2.8 z" fill="#000" stroke="#000" stroke-width="1"/>
<rect x="848.6" y="417.9" width="1.6" height="1.6" fill="#000"/>
<rect x="870.2" y="421.1" width="1.6" height="1.6" fill="#000"/>
<rect x="950.7" y="431.5" width="1.6" height="1.6" fill="#000"/>
<rect x="973" y="434.3" width="1.6" height="1.6" fill="#000"/>
<rect x="853.1" y="626.9" width="1.6" height="1.6" fill="#000"/>
<rect x="874.2" y="629.8" width="1.6" height="1.6" fill="#000"/>
<rect x="952.3" y="642.9" width="1.6" height="1.6" fill="#000"/>
<rect x="973" y="646.1" width="1.6" height="1.6" fill="#000"/>
<rect x="855" y="704.2" width="1.6" height="1.6" fill="#000"/>
<rect x="875.3" y="707.8" width="1.6" height="1.6" fill="#000"/>
<rect x="952.3" y="720.6" width="1.6" height="1.6" fill="#000"/>
<rect x="973" y="724.6" width="1.6" height="1.6" fill="#000"/>
<rect x="872.2" y="549.9" width="1.6" height="1.6" fill="#000"/>
<rect x="952.3" y="562.2" width="1.6" height="1.6" fill="#000"/>
<rect x="973" y="565" width="1.6" height="1.6" fill="#000"/>
</g>
<g id="boxtops">
<path d="M887,512.5 L886.1,508.8 L1003,527" stroke="#000" stroke-width="1" fill="none"/>
<path d="M880,606 L888.5,597.9 L1003,613.5" stroke="#000" stroke-width="1" fill="none"/>
<path d="M888.5,597.9 L897.3,595.5 L1003,609.5" stroke="#000" stroke-width="1" fill="none"/>
</g>
<g id="gray">
</g>
<g id="gray2">
</g>
<g id="gray3">
</g>
<g id="gray4">
</g>
<g id="gray5">
</g>
<g id="leaders">
<line x1="785" y1="29.2" x2="953.9" y2="341.8" stroke="#000" stroke-width="1"/>
<line x1="873.3" y1="29.8" x2="990.1" y2="346.6" stroke="#000" stroke-width="1"/>
<line x1="962.4" y1="29.8" x2="1004.2" y2="138.7" stroke="#000" stroke-width="1"/>
<line x1="1044" y1="29.9" x2="1005.6" y2="138.7" stroke="#000" stroke-width="1"/>
<line x1="1175.6" y1="68.7" x2="978.9" y2="381.1" stroke="#000" stroke-width="1"/>
<line x1="741.7" y1="147.6" x2="945.4" y2="438.8" stroke="#000" stroke-width="1"/>
<line x1="1176.8" y1="148.6" x2="957.9" y2="626.4" stroke="#000" stroke-width="1"/>
<line x1="742.4" y1="226.7" x2="914.5" y2="438.1" stroke="#000" stroke-width="1"/>
<line x1="744" y1="304.6" x2="910.7" y2="440.5" stroke="#000" stroke-width="1"/>
<line x1="1174.7" y1="306.4" x2="1019.2" y2="510.8" stroke="#000" stroke-width="1"/>
<line x1="745.8" y1="381" x2="943.5" y2="455.7" stroke="#000" stroke-width="1"/>
<line x1="1172.9" y1="384.1" x2="1067.5" y2="471" stroke="#000" stroke-width="1"/>
<line x1="746" y1="460.2" x2="832.9" y2="485.9" stroke="#000" stroke-width="1"/>
<line x1="1172.2" y1="463.2" x2="1086.4" y2="519.9" stroke="#000" stroke-width="1"/>
<line x1="746.5" y1="536.6" x2="914" y2="538.5" stroke="#000" stroke-width="1"/>
<line x1="1171.1" y1="540.7" x2="975" y2="619.7" stroke="#000" stroke-width="1"/>
<line x1="745.9" y1="611.8" x2="834" y2="581.5" stroke="#000" stroke-width="1"/>
<line x1="1170.3" y1="615.6" x2="1065.4" y2="616.2" stroke="#000" stroke-width="1"/>
<line x1="743.7" y1="687.8" x2="910.1" y2="542.8" stroke="#000" stroke-width="1"/>
<line x1="1170.3" y1="696.8" x2="1063.9" y2="706.8" stroke="#000" stroke-width="1"/>
<line x1="743.1" y1="766.5" x2="837.1" y2="670.4" stroke="#000" stroke-width="1"/>
<line x1="838.5" y1="806.5" x2="913.8" y2="730" stroke="#000" stroke-width="1"/>
<line x1="897.9" y1="803.7" x2="917.5" y2="727.3" stroke="#000" stroke-width="1"/>
<line x1="955.7" y1="803.7" x2="923.8" y2="684.2" stroke="#000" stroke-width="1"/>
<line x1="1016.4" y1="804.9" x2="915.5" y2="637.9" stroke="#000" stroke-width="1"/>
<line x1="1078.3" y1="806.3" x2="918.6" y2="634.5" stroke="#000" stroke-width="1"/>
<line x1="1141.4" y1="806.8" x2="979.2" y2="652.7" stroke="#000" stroke-width="1"/>
</g>
<g id="endcircles" shape-rendering="geometricPrecision">
<circle cx="954.9" cy="343.6" r="2" stroke="#000" stroke-width="1" fill="#fff"/>
<circle cx="990.8" cy="348.5" r="2" stroke="#000" stroke-width="1" fill="#fff"/>
<circle cx="1004.9" cy="140.6" r="2" stroke="#000" stroke-width="1" fill="#fff"/>
<circle cx="1004.9" cy="140.6" r="2" stroke="#000" stroke-width="1" fill="#fff"/>
<circle cx="977.8" cy="382.8" r="2" stroke="#000" stroke-width="1" fill="#fff"/>
<circle cx="957.1" cy="628.2" r="2" stroke="#000" stroke-width="1" fill="#fff"/>
<circle cx="915.8" cy="439.7" r="2" stroke="#000" stroke-width="1" fill="#fff"/>
<circle cx="912.2" cy="441.8" r="2" stroke="#000" stroke-width="1" fill="#fff"/>
<circle cx="1018" cy="512.4" r="2" stroke="#000" stroke-width="1" fill="#fff"/>
<circle cx="945.4" cy="456.4" r="2" stroke="#000" stroke-width="1" fill="#fff"/>
<circle cx="1066" cy="472.3" r="2" stroke="#000" stroke-width="1" fill="#fff"/>
<circle cx="834.8" cy="486.5" r="2" stroke="#000" stroke-width="1" fill="#fff"/>
<circle cx="1084.7" cy="521" r="2" stroke="#000" stroke-width="1" fill="#fff"/>
<circle cx="916" cy="538.5" r="2" stroke="#000" stroke-width="1" fill="#fff"/>
<circle cx="835.9" cy="580.8" r="2" stroke="#000" stroke-width="1" fill="#fff"/>
<circle cx="1063.4" cy="616.2" r="2" stroke="#000" stroke-width="1" fill="#fff"/>
<circle cx="911.6" cy="541.5" r="2" stroke="#000" stroke-width="1" fill="#fff"/>
<circle cx="1061.9" cy="707" r="2" stroke="#000" stroke-width="1" fill="#fff"/>
<circle cx="838.5" cy="669" r="2" stroke="#000" stroke-width="1" fill="#fff"/>
<circle cx="915.2" cy="728.6" r="2" stroke="#000" stroke-width="1" fill="#fff"/>
<circle cx="918" cy="725.4" r="2" stroke="#000" stroke-width="1" fill="#fff"/>
<circle cx="923.3" cy="682.3" r="2" stroke="#000" stroke-width="1" fill="#fff"/>
<circle cx="914.5" cy="636.2" r="2" stroke="#000" stroke-width="1" fill="#fff"/>
<circle cx="917.2" cy="633" r="2" stroke="#000" stroke-width="1" fill="#fff"/>
<circle cx="977.8" cy="651.3" r="2" stroke="#000" stroke-width="1" fill="#fff"/>
</g>
<g id="balloons">
<circle cx="779.7" cy="19.3" r="11.2" stroke="#000" stroke-width="1" fill="#fff"/>
<circle cx="869.4" cy="19.3" r="11.2" stroke="#000" stroke-width="1" fill="#fff"/>
<circle cx="958.4" cy="19.3" r="11.2" stroke="#000" stroke-width="1" fill="#fff"/>
<circle cx="1047.7" cy="19.3" r="11.2" stroke="#000" stroke-width="1" fill="#fff"/>
<circle cx="1181.6" cy="59.2" r="11.2" stroke="#000" stroke-width="1" fill="#fff"/>
<circle cx="735.3" cy="138.4" r="11.2" stroke="#000" stroke-width="1" fill="#fff"/>
<circle cx="1181.5" cy="138.4" r="11.2" stroke="#000" stroke-width="1" fill="#fff"/>
<circle cx="735.3" cy="218" r="11.2" stroke="#000" stroke-width="1" fill="#fff"/>
<circle cx="735.3" cy="297.5" r="11.2" stroke="#000" stroke-width="1" fill="#fff"/>
<circle cx="1181.5" cy="297.5" r="11.2" stroke="#000" stroke-width="1" fill="#fff"/>
<circle cx="735.3" cy="377" r="11.2" stroke="#000" stroke-width="1" fill="#fff"/>
<circle cx="1181.5" cy="377" r="11.2" stroke="#000" stroke-width="1" fill="#fff"/>
<circle cx="735.3" cy="457" r="11.2" stroke="#000" stroke-width="1" fill="#fff"/>
<circle cx="1181.5" cy="457" r="11.2" stroke="#000" stroke-width="1" fill="#fff"/>
<circle cx="735.3" cy="536.5" r="11.2" stroke="#000" stroke-width="1" fill="#fff"/>
<circle cx="1181.5" cy="536.5" r="11.2" stroke="#000" stroke-width="1" fill="#fff"/>
<circle cx="735.3" cy="615.5" r="11.2" stroke="#000" stroke-width="1" fill="#fff"/>
<circle cx="1181.5" cy="615.5" r="11.2" stroke="#000" stroke-width="1" fill="#fff"/>
<circle cx="735.3" cy="695.2" r="11.2" stroke="#000" stroke-width="1" fill="#fff"/>
<circle cx="1181.5" cy="695.7" r="11.2" stroke="#000" stroke-width="1" fill="#fff"/>
<circle cx="735.3" cy="774.5" r="11.2" stroke="#000" stroke-width="1" fill="#fff"/>
<circle cx="830.6" cy="814.5" r="11.2" stroke="#000" stroke-width="1" fill="#fff"/>
<circle cx="895.1" cy="814.5" r="11.2" stroke="#000" stroke-width="1" fill="#fff"/>
<circle cx="958.6" cy="814.5" r="11.2" stroke="#000" stroke-width="1" fill="#fff"/>
<circle cx="1022.2" cy="814.5" r="11.2" stroke="#000" stroke-width="1" fill="#fff"/>
<circle cx="1085.9" cy="814.5" r="11.2" stroke="#000" stroke-width="1" fill="#fff"/>
<circle cx="1149.5" cy="814.5" r="11.2" stroke="#000" stroke-width="1" fill="#fff"/>
</g>
<g id="labels" font-family="'Liberation Sans', sans-serif" font-style="italic" font-size="14px" text-anchor="middle" fill="#222" style="filter:grayscale(1)">
<text x="779.7" y="24.5" stroke="none">8</text>
<text x="869.4" y="24.5" stroke="none">10</text>
<text x="958.4" y="24.5" stroke="none">23</text>
<text x="1047.7" y="24.5" stroke="none">1</text>
<text x="1181.6" y="64.4" stroke="none">13</text>
<text x="735.3" y="143.6" stroke="none">26</text>
<text x="1181.5" y="143.6" stroke="none">9</text>
<text x="735.3" y="223.2" stroke="none">15</text>
<text x="735.3" y="302.7" stroke="none">22</text>
<text x="1181.5" y="302.7" stroke="none">27</text>
<text x="735.3" y="382.2" stroke="none">25</text>
<text x="1181.5" y="382.2" stroke="none">24</text>
<text x="735.3" y="462.2" stroke="none">6</text>
<text x="1181.5" y="462.2" stroke="none">7</text>
<text x="735.3" y="541.7" stroke="none">14</text>
<text x="1181.5" y="541.7" stroke="none">21</text>
<text x="735.3" y="620.7" stroke="none">20</text>
<text x="1181.5" y="620.7" stroke="none">19</text>
<text x="735.3" y="700.4" stroke="none">3</text>
<text x="1181.5" y="700.9" stroke="none">17</text>
<text x="735.3" y="779.7" stroke="none">18</text>
<text x="830.6" y="819.7" stroke="none">4</text>
<text x="895.1" y="819.7" stroke="none">12</text>
<text x="958.6" y="819.7" stroke="none">5</text>
<text x="1022.2" y="819.7" stroke="none">2</text>
<text x="1085.9" y="819.7" stroke="none">16</text>
<text x="1149.5" y="819.7" stroke="none">11</text>
</g>
</svg>
</body></html>
